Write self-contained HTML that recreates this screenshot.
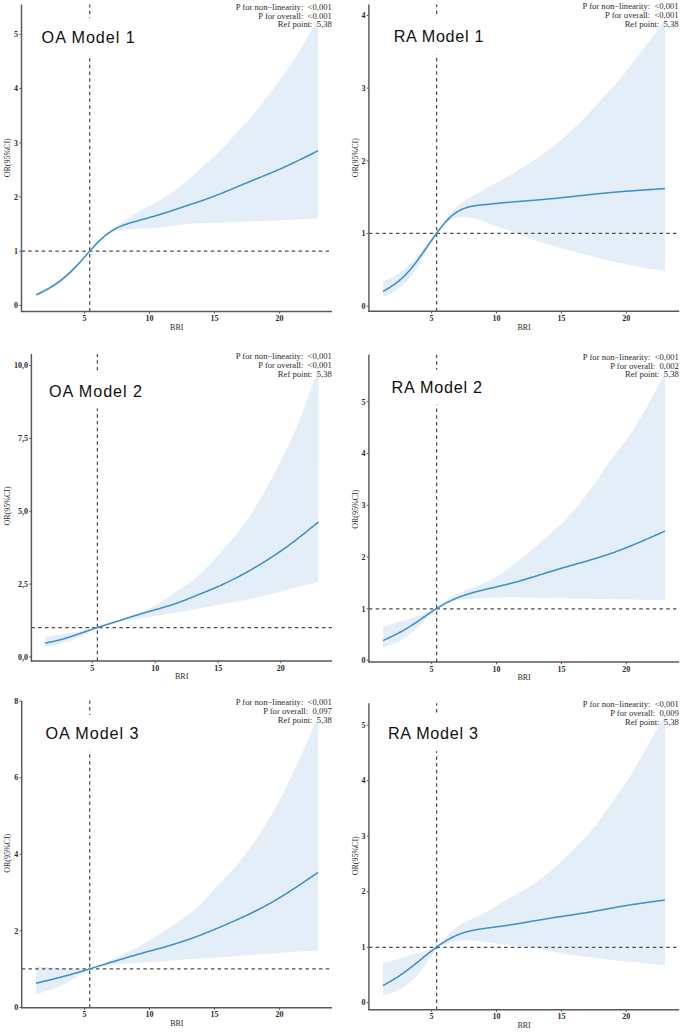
<!DOCTYPE html>
<html><head><meta charset="utf-8"><title>RCS plots</title>
<style>
html,body{margin:0;padding:0;background:#fff;}
body{width:685px;height:1035px;overflow:hidden;}
svg{display:block;}
.tk{font-family:"Liberation Serif",serif;font-weight:bold;font-size:8px;fill:#2b2b2b;}
.at{font-family:"Liberation Serif",serif;font-size:8px;fill:#2b2b2b;}
.an{font-family:"Liberation Serif",serif;font-size:8.6px;fill:#2b2b2b;}
.ti{font-family:"Liberation Sans",sans-serif;font-size:16.2px;fill:#111;}
</style></head>
<body>
<svg width="685" height="1035" viewBox="0 0 685 1035">
<rect x="0" y="0" width="685" height="1035" fill="#fff"/>
<path d="M36.1,292.7 L37.1,292.2 L38.1,291.8 L39.1,291.3 L40.1,290.9 L41.1,290.4 L42.1,290.0 L43.1,289.5 L44.1,289.0 L45.1,288.5 L46.1,288.0 L47.1,287.5 L48.1,286.9 L49.1,286.4 L50.1,285.8 L51.1,285.2 L52.1,284.6 L53.1,284.0 L54.1,283.4 L55.1,282.7 L56.1,282.0 L57.1,281.3 L58.1,280.6 L59.1,279.8 L60.1,279.1 L61.1,278.3 L62.1,277.5 L63.1,276.7 L64.1,275.8 L65.1,275.0 L66.1,274.1 L67.1,273.3 L68.1,272.4 L69.1,271.5 L70.1,270.6 L71.1,269.7 L72.1,268.8 L73.1,267.8 L74.1,266.9 L75.1,265.9 L76.1,264.9 L77.1,263.9 L78.1,262.9 L79.1,261.9 L80.1,260.9 L81.1,259.8 L82.1,258.8 L83.1,257.7 L84.1,256.6 L85.1,255.6 L86.1,254.5 L87.1,253.4 L88.1,252.3 L89.1,251.2 L90.1,250.0 L91.1,248.9 L92.1,247.7 L93.1,246.6 L94.1,245.5 L95.1,244.3 L96.1,243.2 L97.1,242.2 L98.1,241.1 L99.1,240.1 L100.1,239.1 L101.1,238.1 L102.1,237.2 L103.1,236.3 L104.1,235.4 L105.1,234.5 L106.1,233.7 L107.1,232.9 L108.1,232.1 L109.1,231.4 L110.1,230.7 L111.1,229.9 L112.1,229.2 L113.1,228.6 L114.1,227.9 L115.1,227.2 L116.1,226.5 L117.1,225.9 L118.1,225.2 L119.1,224.6 L120.1,223.9 L121.1,223.3 L122.1,222.6 L123.1,221.9 L124.1,221.3 L125.1,220.6 L126.1,219.9 L127.1,219.2 L128.1,218.5 L129.1,217.8 L130.1,217.2 L131.1,216.5 L132.1,215.8 L133.1,215.1 L134.1,214.4 L135.1,213.8 L136.1,213.1 L137.1,212.5 L138.1,211.8 L139.1,211.2 L140.1,210.6 L141.1,210.0 L142.1,209.4 L143.1,208.9 L144.1,208.3 L145.1,207.8 L146.1,207.3 L147.1,206.8 L148.1,206.3 L149.1,205.8 L150.1,205.3 L151.1,204.9 L152.1,204.4 L153.1,203.9 L154.1,203.4 L155.1,202.8 L156.1,202.3 L157.1,201.7 L158.1,201.2 L159.1,200.6 L160.1,200.0 L161.1,199.4 L162.1,198.8 L163.1,198.2 L164.1,197.6 L165.1,197.0 L166.1,196.3 L167.1,195.7 L168.1,195.0 L169.1,194.4 L170.1,193.7 L171.1,193.1 L172.1,192.4 L173.1,191.7 L174.1,191.0 L175.1,190.4 L176.1,189.6 L177.1,188.9 L178.1,188.2 L179.1,187.4 L180.1,186.7 L181.1,185.9 L182.1,185.1 L183.1,184.2 L184.1,183.4 L185.1,182.6 L186.1,181.7 L187.1,180.8 L188.1,179.9 L189.1,179.0 L190.1,178.1 L191.1,177.2 L192.1,176.3 L193.1,175.4 L194.1,174.5 L195.1,173.6 L196.1,172.7 L197.1,171.7 L198.1,170.8 L199.1,169.9 L200.1,169.0 L201.1,168.0 L202.1,167.1 L203.1,166.2 L204.1,165.3 L205.1,164.4 L206.1,163.5 L207.1,162.6 L208.1,161.7 L209.1,160.8 L210.1,159.9 L211.1,159.0 L212.1,158.1 L213.1,157.2 L214.1,156.3 L215.1,155.4 L216.1,154.5 L217.1,153.6 L218.1,152.7 L219.1,151.7 L220.1,150.8 L221.1,149.7 L222.1,148.7 L223.1,147.7 L224.1,146.6 L225.1,145.5 L226.1,144.4 L227.1,143.3 L228.1,142.2 L229.1,141.1 L230.1,140.0 L231.1,138.9 L232.1,137.8 L233.1,136.6 L234.1,135.5 L235.1,134.5 L236.1,133.4 L237.1,132.3 L238.1,131.2 L239.1,130.2 L240.1,129.1 L241.1,128.1 L242.1,127.1 L243.1,126.0 L244.1,125.0 L245.1,123.9 L246.1,122.9 L247.1,121.8 L248.1,120.7 L249.1,119.6 L250.1,118.5 L251.1,117.3 L252.1,116.1 L253.1,114.9 L254.1,113.7 L255.1,112.4 L256.1,111.1 L257.1,109.8 L258.1,108.4 L259.1,107.1 L260.1,105.8 L261.1,104.4 L262.1,103.1 L263.1,101.8 L264.1,100.5 L265.1,99.2 L266.1,97.9 L267.1,96.7 L268.1,95.4 L269.1,94.1 L270.1,92.8 L271.1,91.6 L272.1,90.3 L273.1,89.0 L274.1,87.7 L275.1,86.3 L276.1,85.0 L277.1,83.7 L278.1,82.3 L279.1,81.0 L280.1,79.6 L281.1,78.2 L282.1,76.8 L283.1,75.4 L284.1,74.0 L285.1,72.6 L286.1,71.2 L287.1,69.7 L288.1,68.3 L289.1,66.9 L290.1,65.4 L291.1,63.9 L292.1,62.4 L293.1,60.9 L294.1,59.4 L295.1,57.8 L296.1,56.2 L297.1,54.6 L298.1,53.0 L299.1,51.4 L300.1,49.8 L301.1,48.1 L302.1,46.5 L303.1,44.8 L304.1,43.1 L305.1,41.4 L306.1,39.7 L307.1,38.0 L308.1,36.3 L309.1,34.6 L310.1,32.9 L311.1,31.2 L312.1,29.4 L313.1,27.7 L314.1,26.0 L315.1,24.2 L316.1,22.5 L317.1,20.7 L318.1,19.0 L318.0,218.4 L317.1,218.4 L316.1,218.5 L315.1,218.6 L314.1,218.6 L313.1,218.7 L312.1,218.7 L311.1,218.8 L310.1,218.8 L309.1,218.9 L308.1,218.9 L307.1,219.0 L306.1,219.0 L305.1,219.1 L304.1,219.1 L303.1,219.2 L302.1,219.2 L301.1,219.3 L300.1,219.3 L299.1,219.4 L298.1,219.4 L297.1,219.5 L296.1,219.5 L295.1,219.6 L294.1,219.6 L293.1,219.7 L292.1,219.7 L291.1,219.8 L290.1,219.8 L289.1,219.9 L288.1,219.9 L287.1,220.0 L286.1,220.0 L285.1,220.1 L284.1,220.1 L283.1,220.2 L282.1,220.2 L281.1,220.3 L280.1,220.3 L279.1,220.4 L278.1,220.4 L277.1,220.5 L276.1,220.5 L275.1,220.6 L274.1,220.6 L273.1,220.6 L272.1,220.7 L271.1,220.7 L270.1,220.8 L269.1,220.8 L268.1,220.9 L267.1,220.9 L266.1,221.0 L265.1,221.0 L264.1,221.0 L263.1,221.1 L262.1,221.1 L261.1,221.2 L260.1,221.2 L259.1,221.2 L258.1,221.3 L257.1,221.3 L256.1,221.4 L255.1,221.4 L254.1,221.4 L253.1,221.5 L252.1,221.5 L251.1,221.5 L250.1,221.6 L249.1,221.6 L248.1,221.7 L247.1,221.7 L246.1,221.7 L245.1,221.8 L244.1,221.8 L243.1,221.8 L242.1,221.9 L241.1,221.9 L240.1,221.9 L239.1,222.0 L238.1,222.0 L237.1,222.0 L236.1,222.1 L235.1,222.1 L234.1,222.1 L233.1,222.2 L232.1,222.2 L231.1,222.2 L230.1,222.2 L229.1,222.3 L228.1,222.3 L227.1,222.3 L226.1,222.4 L225.1,222.4 L224.1,222.4 L223.1,222.4 L222.1,222.5 L221.1,222.5 L220.1,222.5 L219.1,222.6 L218.1,222.6 L217.1,222.6 L216.1,222.6 L215.1,222.7 L214.1,222.7 L213.1,222.7 L212.1,222.8 L211.1,222.8 L210.1,222.8 L209.1,222.9 L208.1,222.9 L207.1,223.0 L206.1,223.0 L205.1,223.0 L204.1,223.1 L203.1,223.1 L202.1,223.2 L201.1,223.2 L200.1,223.3 L199.1,223.3 L198.1,223.4 L197.1,223.5 L196.1,223.5 L195.1,223.6 L194.1,223.6 L193.1,223.7 L192.1,223.8 L191.1,223.9 L190.1,224.0 L189.1,224.0 L188.1,224.1 L187.1,224.2 L186.1,224.3 L185.1,224.4 L184.1,224.5 L183.1,224.6 L182.1,224.7 L181.1,224.9 L180.1,225.0 L179.1,225.1 L178.1,225.2 L177.1,225.3 L176.1,225.5 L175.1,225.6 L174.1,225.7 L173.1,225.8 L172.1,226.0 L171.1,226.1 L170.1,226.2 L169.1,226.3 L168.1,226.5 L167.1,226.6 L166.1,226.7 L165.1,226.8 L164.1,226.9 L163.1,227.1 L162.1,227.2 L161.1,227.3 L160.1,227.4 L159.1,227.5 L158.1,227.6 L157.1,227.7 L156.1,227.8 L155.1,227.8 L154.1,227.9 L153.1,228.0 L152.1,228.1 L151.1,228.1 L150.1,228.2 L149.1,228.3 L148.1,228.3 L147.1,228.4 L146.1,228.4 L145.1,228.5 L144.1,228.5 L143.1,228.6 L142.1,228.6 L141.1,228.6 L140.1,228.7 L139.1,228.7 L138.1,228.8 L137.1,228.8 L136.1,228.8 L135.1,228.9 L134.1,228.9 L133.1,228.9 L132.1,229.0 L131.1,229.0 L130.1,229.1 L129.1,229.1 L128.1,229.2 L127.1,229.2 L126.1,229.3 L125.1,229.4 L124.1,229.5 L123.1,229.6 L122.1,229.7 L121.1,229.9 L120.1,230.0 L119.1,230.2 L118.1,230.5 L117.1,230.7 L116.1,231.0 L115.1,231.3 L114.1,231.7 L113.1,232.1 L112.1,232.5 L111.1,233.0 L110.1,233.5 L109.1,234.1 L108.1,234.6 L107.1,235.3 L106.1,235.9 L105.1,236.6 L104.1,237.4 L103.1,238.1 L102.1,238.9 L101.1,239.8 L100.1,240.6 L99.1,241.6 L98.1,242.5 L97.1,243.5 L96.1,244.5 L95.1,245.5 L94.1,246.6 L93.1,247.7 L92.1,248.9 L91.1,250.1 L90.1,251.3 L89.1,252.5 L88.1,253.7 L87.1,255.0 L86.1,256.3 L85.1,257.6 L84.1,258.9 L83.1,260.1 L82.1,261.4 L81.1,262.6 L80.1,263.8 L79.1,264.9 L78.1,266.1 L77.1,267.2 L76.1,268.3 L75.1,269.4 L74.1,270.4 L73.1,271.4 L72.1,272.4 L71.1,273.4 L70.1,274.4 L69.1,275.3 L68.1,276.2 L67.1,277.1 L66.1,278.0 L65.1,278.8 L64.1,279.7 L63.1,280.5 L62.1,281.3 L61.1,282.1 L60.1,282.9 L59.1,283.7 L58.1,284.4 L57.1,285.1 L56.1,285.8 L55.1,286.5 L54.1,287.2 L53.1,287.8 L52.1,288.4 L51.1,289.0 L50.1,289.6 L49.1,290.2 L48.1,290.8 L47.1,291.3 L46.1,291.8 L45.1,292.3 L44.1,292.9 L43.1,293.4 L42.1,293.8 L41.1,294.3 L40.1,294.8 L39.1,295.3 L38.1,295.7 L37.1,296.2 L36.1,296.7 Z" fill="#e4eef8" stroke="none"/>
<line x1="21.50" y1="251.20" x2="332.00" y2="251.20" stroke="#4d4d4d" stroke-width="1.25" stroke-dasharray="3.5 3.257"/>
<line x1="89.70" y1="311.50" x2="89.70" y2="4.40" stroke="#4d4d4d" stroke-width="1.25" stroke-dasharray="3.5 3.257"/>
<path d="M36.1,294.9 L37.1,294.4 L38.1,293.9 L39.1,293.5 L40.1,293.0 L41.1,292.5 L42.1,292.0 L43.1,291.4 L44.1,290.9 L45.1,290.4 L46.1,289.9 L47.1,289.3 L48.1,288.8 L49.1,288.2 L50.1,287.6 L51.1,287.0 L52.1,286.4 L53.1,285.8 L54.1,285.1 L55.1,284.5 L56.1,283.8 L57.1,283.1 L58.1,282.4 L59.1,281.6 L60.1,280.9 L61.1,280.1 L62.1,279.3 L63.1,278.5 L64.1,277.7 L65.1,276.8 L66.1,276.0 L67.1,275.1 L68.1,274.2 L69.1,273.3 L70.1,272.3 L71.1,271.4 L72.1,270.4 L73.1,269.4 L74.1,268.4 L75.1,267.4 L76.1,266.4 L77.1,265.3 L78.1,264.2 L79.1,263.1 L80.1,262.1 L81.1,260.9 L82.1,259.8 L83.1,258.7 L84.1,257.6 L85.1,256.4 L86.1,255.3 L87.1,254.1 L88.1,253.0 L89.1,251.8 L90.1,250.7 L91.1,249.6 L92.1,248.4 L93.1,247.3 L94.1,246.2 L95.1,245.2 L96.1,244.1 L97.1,243.1 L98.1,242.1 L99.1,241.1 L100.1,240.1 L101.1,239.2 L102.1,238.3 L103.1,237.4 L104.1,236.5 L105.1,235.7 L106.1,234.9 L107.1,234.1 L108.1,233.4 L109.1,232.7 L110.1,232.0 L111.1,231.3 L112.1,230.7 L113.1,230.1 L114.1,229.5 L115.1,228.9 L116.1,228.4 L117.1,227.9 L118.1,227.4 L119.1,226.9 L120.1,226.5 L121.1,226.1 L122.1,225.7 L123.1,225.3 L124.1,224.9 L125.1,224.6 L126.1,224.2 L127.1,223.9 L128.1,223.6 L129.1,223.2 L130.1,222.9 L131.1,222.6 L132.1,222.4 L133.1,222.1 L134.1,221.8 L135.1,221.5 L136.1,221.2 L137.1,220.9 L138.1,220.7 L139.1,220.4 L140.1,220.1 L141.1,219.8 L142.1,219.6 L143.1,219.3 L144.1,219.0 L145.1,218.7 L146.1,218.4 L147.1,218.2 L148.1,217.9 L149.1,217.6 L150.1,217.3 L151.1,217.0 L152.1,216.7 L153.1,216.5 L154.1,216.2 L155.1,215.9 L156.1,215.6 L157.1,215.3 L158.1,215.0 L159.1,214.7 L160.1,214.4 L161.1,214.1 L162.1,213.8 L163.1,213.5 L164.1,213.2 L165.1,212.9 L166.1,212.5 L167.1,212.2 L168.1,211.9 L169.1,211.6 L170.1,211.3 L171.1,210.9 L172.1,210.6 L173.1,210.3 L174.1,209.9 L175.1,209.6 L176.1,209.3 L177.1,208.9 L178.1,208.6 L179.1,208.3 L180.1,207.9 L181.1,207.6 L182.1,207.2 L183.1,206.9 L184.1,206.6 L185.1,206.2 L186.1,205.9 L187.1,205.6 L188.1,205.2 L189.1,204.9 L190.1,204.6 L191.1,204.2 L192.1,203.9 L193.1,203.6 L194.1,203.2 L195.1,202.9 L196.1,202.6 L197.1,202.2 L198.1,201.9 L199.1,201.6 L200.1,201.2 L201.1,200.9 L202.1,200.5 L203.1,200.2 L204.1,199.8 L205.1,199.5 L206.1,199.1 L207.1,198.8 L208.1,198.4 L209.1,198.0 L210.1,197.7 L211.1,197.3 L212.1,196.9 L213.1,196.5 L214.1,196.2 L215.1,195.8 L216.1,195.4 L217.1,195.0 L218.1,194.6 L219.1,194.2 L220.1,193.9 L221.1,193.5 L222.1,193.1 L223.1,192.7 L224.1,192.3 L225.1,191.8 L226.1,191.4 L227.1,191.0 L228.1,190.6 L229.1,190.2 L230.1,189.8 L231.1,189.4 L232.1,188.9 L233.1,188.5 L234.1,188.1 L235.1,187.7 L236.1,187.3 L237.1,186.9 L238.1,186.4 L239.1,186.0 L240.1,185.6 L241.1,185.2 L242.1,184.8 L243.1,184.3 L244.1,183.9 L245.1,183.5 L246.1,183.1 L247.1,182.7 L248.1,182.3 L249.1,181.9 L250.1,181.5 L251.1,181.0 L252.1,180.6 L253.1,180.2 L254.1,179.8 L255.1,179.4 L256.1,179.0 L257.1,178.6 L258.1,178.2 L259.1,177.8 L260.1,177.4 L261.1,177.0 L262.1,176.6 L263.1,176.1 L264.1,175.7 L265.1,175.3 L266.1,174.9 L267.1,174.5 L268.1,174.1 L269.1,173.7 L270.1,173.3 L271.1,172.9 L272.1,172.4 L273.1,172.0 L274.1,171.6 L275.1,171.2 L276.1,170.7 L277.1,170.3 L278.1,169.9 L279.1,169.4 L280.1,169.0 L281.1,168.5 L282.1,168.1 L283.1,167.7 L284.1,167.2 L285.1,166.7 L286.1,166.3 L287.1,165.8 L288.1,165.4 L289.1,164.9 L290.1,164.4 L291.1,164.0 L292.1,163.5 L293.1,163.0 L294.1,162.5 L295.1,162.1 L296.1,161.6 L297.1,161.1 L298.1,160.6 L299.1,160.1 L300.1,159.6 L301.1,159.2 L302.1,158.7 L303.1,158.2 L304.1,157.7 L305.1,157.2 L306.1,156.7 L307.1,156.2 L308.1,155.7 L309.1,155.2 L310.1,154.7 L311.1,154.2 L312.1,153.7 L313.1,153.2 L314.1,152.7 L315.1,152.1 L316.1,151.6 L317.1,151.1 L318.1,150.6" fill="none" stroke="#3d8fcb" stroke-width="1.55" stroke-linejoin="round" stroke-linecap="butt"/>
<rect x="85.70" y="18.40" width="8" height="39.40" fill="#fff"/>
<line x1="21.50" y1="4.40" x2="21.50" y2="312.05" stroke="#595959" stroke-width="1.45"/>
<line x1="20.95" y1="311.50" x2="332.00" y2="311.50" stroke="#595959" stroke-width="1.45"/>
<line x1="19.30" y1="305.40" x2="21.50" y2="305.40" stroke="#595959" stroke-width="1.0"/>
<text x="18.00" y="308.10" class="tk" text-anchor="end">0</text>
<line x1="19.30" y1="251.20" x2="21.50" y2="251.20" stroke="#595959" stroke-width="1.0"/>
<text x="18.00" y="253.90" class="tk" text-anchor="end">1</text>
<line x1="19.30" y1="197.00" x2="21.50" y2="197.00" stroke="#595959" stroke-width="1.0"/>
<text x="18.00" y="199.70" class="tk" text-anchor="end">2</text>
<line x1="19.30" y1="142.80" x2="21.50" y2="142.80" stroke="#595959" stroke-width="1.0"/>
<text x="18.00" y="145.50" class="tk" text-anchor="end">3</text>
<line x1="19.30" y1="88.60" x2="21.50" y2="88.60" stroke="#595959" stroke-width="1.0"/>
<text x="18.00" y="91.30" class="tk" text-anchor="end">4</text>
<line x1="19.30" y1="34.40" x2="21.50" y2="34.40" stroke="#595959" stroke-width="1.0"/>
<text x="18.00" y="37.10" class="tk" text-anchor="end">5</text>
<line x1="84.60" y1="311.50" x2="84.60" y2="313.70" stroke="#595959" stroke-width="1.0"/>
<text x="84.60" y="321.00" class="tk" text-anchor="middle">5</text>
<line x1="149.50" y1="311.50" x2="149.50" y2="313.70" stroke="#595959" stroke-width="1.0"/>
<text x="149.50" y="321.00" class="tk" text-anchor="middle">10</text>
<line x1="214.40" y1="311.50" x2="214.40" y2="313.70" stroke="#595959" stroke-width="1.0"/>
<text x="214.40" y="321.00" class="tk" text-anchor="middle">15</text>
<line x1="279.40" y1="311.50" x2="279.40" y2="313.70" stroke="#595959" stroke-width="1.0"/>
<text x="279.40" y="321.00" class="tk" text-anchor="middle">20</text>
<text x="176.75" y="329.90" class="at" text-anchor="middle">BRI</text>
<text x="0" y="0" class="at" text-anchor="middle" transform="translate(10.20,157.80) rotate(-90)">OR(95%CI)</text>
<text x="331.80" y="9.60" class="an" text-anchor="end">P for non−linearity:  &lt;0,001</text>
<text x="331.80" y="18.70" class="an" text-anchor="end">P for overall:  &lt;0.001</text>
<text x="331.80" y="27.20" class="an" text-anchor="end">Ref point:  5,38</text>
<text x="41.60" y="42.70" class="ti" textLength="93.20" lengthAdjust="spacing">OA Model 1</text>
<path d="M383.0,281.7 L384.0,281.2 L385.0,280.7 L386.0,280.3 L387.0,279.8 L388.0,279.3 L389.0,278.8 L390.0,278.3 L391.0,277.8 L392.0,277.3 L393.0,276.7 L394.0,276.2 L395.0,275.6 L396.0,275.1 L397.0,274.5 L398.0,273.9 L399.0,273.2 L400.0,272.6 L401.0,271.9 L402.0,271.2 L403.0,270.4 L404.0,269.6 L405.0,268.8 L406.0,268.0 L407.0,267.1 L408.0,266.2 L409.0,265.2 L410.0,264.2 L411.0,263.2 L412.0,262.2 L413.0,261.1 L414.0,259.9 L415.0,258.8 L416.0,257.6 L417.0,256.4 L418.0,255.2 L419.0,254.0 L420.0,252.7 L421.0,251.5 L422.0,250.2 L423.0,248.9 L424.0,247.7 L425.0,246.4 L426.0,245.2 L427.0,243.9 L428.0,242.7 L429.0,241.5 L430.0,240.2 L431.0,239.0 L432.0,237.8 L433.0,236.5 L434.0,235.3 L435.0,234.0 L436.0,232.8 L437.0,231.5 L438.0,230.2 L439.0,228.8 L440.0,227.5 L441.0,226.2 L442.0,224.8 L443.0,223.5 L444.0,222.2 L445.0,220.9 L446.0,219.6 L447.0,218.3 L448.0,217.0 L449.0,215.8 L450.0,214.6 L451.0,213.5 L452.0,212.3 L453.0,211.2 L454.0,210.1 L455.0,209.1 L456.0,208.1 L457.0,207.1 L458.0,206.2 L459.0,205.3 L460.0,204.4 L461.0,203.6 L462.0,202.8 L463.0,202.0 L464.0,201.3 L465.0,200.6 L466.0,199.9 L467.0,199.2 L468.0,198.6 L469.0,198.0 L470.0,197.4 L471.0,196.8 L472.0,196.2 L473.0,195.6 L474.0,195.1 L475.0,194.5 L476.0,194.0 L477.0,193.4 L478.0,192.9 L479.0,192.3 L480.0,191.8 L481.0,191.2 L482.0,190.7 L483.0,190.1 L484.0,189.6 L485.0,189.0 L486.0,188.5 L487.0,188.0 L488.0,187.5 L489.0,186.9 L490.0,186.4 L491.0,185.9 L492.0,185.3 L493.0,184.8 L494.0,184.2 L495.0,183.7 L496.0,183.1 L497.0,182.6 L498.0,182.0 L499.0,181.5 L500.0,180.9 L501.0,180.3 L502.0,179.7 L503.0,179.2 L504.0,178.6 L505.0,178.0 L506.0,177.4 L507.0,176.8 L508.0,176.2 L509.0,175.7 L510.0,175.1 L511.0,174.5 L512.0,173.9 L513.0,173.3 L514.0,172.7 L515.0,172.1 L516.0,171.5 L517.0,170.9 L518.0,170.3 L519.0,169.7 L520.0,169.0 L521.0,168.4 L522.0,167.8 L523.0,167.2 L524.0,166.6 L525.0,165.9 L526.0,165.3 L527.0,164.6 L528.0,164.0 L529.0,163.4 L530.0,162.7 L531.0,162.1 L532.0,161.4 L533.0,160.8 L534.0,160.1 L535.0,159.4 L536.0,158.8 L537.0,158.1 L538.0,157.4 L539.0,156.7 L540.0,156.0 L541.0,155.3 L542.0,154.6 L543.0,153.9 L544.0,153.2 L545.0,152.5 L546.0,151.7 L547.0,151.0 L548.0,150.2 L549.0,149.4 L550.0,148.7 L551.0,147.9 L552.0,147.1 L553.0,146.3 L554.0,145.5 L555.0,144.7 L556.0,143.9 L557.0,143.1 L558.0,142.3 L559.0,141.5 L560.0,140.6 L561.0,139.8 L562.0,138.9 L563.0,138.0 L564.0,137.2 L565.0,136.3 L566.0,135.4 L567.0,134.5 L568.0,133.6 L569.0,132.7 L570.0,131.8 L571.0,130.9 L572.0,129.9 L573.0,129.0 L574.0,128.1 L575.0,127.1 L576.0,126.2 L577.0,125.2 L578.0,124.2 L579.0,123.2 L580.0,122.2 L581.0,121.2 L582.0,120.2 L583.0,119.2 L584.0,118.2 L585.0,117.2 L586.0,116.1 L587.0,115.1 L588.0,114.0 L589.0,112.9 L590.0,111.9 L591.0,110.8 L592.0,109.7 L593.0,108.6 L594.0,107.5 L595.0,106.4 L596.0,105.3 L597.0,104.2 L598.0,103.1 L599.0,102.0 L600.0,101.0 L601.0,99.9 L602.0,98.8 L603.0,97.7 L604.0,96.6 L605.0,95.6 L606.0,94.5 L607.0,93.4 L608.0,92.3 L609.0,91.3 L610.0,90.2 L611.0,89.1 L612.0,88.0 L613.0,86.9 L614.0,85.8 L615.0,84.6 L616.0,83.5 L617.0,82.3 L618.0,81.2 L619.0,80.0 L620.0,78.8 L621.0,77.6 L622.0,76.4 L623.0,75.2 L624.0,73.9 L625.0,72.7 L626.0,71.4 L627.0,70.1 L628.0,68.8 L629.0,67.6 L630.0,66.3 L631.0,65.0 L632.0,63.7 L633.0,62.4 L634.0,61.1 L635.0,59.8 L636.0,58.5 L637.0,57.2 L638.0,55.9 L639.0,54.6 L640.0,53.3 L641.0,52.0 L642.0,50.7 L643.0,49.4 L644.0,48.2 L645.0,46.9 L646.0,45.6 L647.0,44.3 L648.0,43.0 L649.0,41.7 L650.0,40.4 L651.0,39.1 L652.0,37.8 L653.0,36.4 L654.0,35.1 L655.0,33.7 L656.0,32.4 L657.0,31.0 L658.0,29.6 L659.0,28.2 L660.0,26.7 L661.0,25.3 L662.0,23.9 L663.0,22.4 L664.0,21.0 L665.0,19.5 L665.0,270.9 L664.0,270.8 L663.0,270.6 L662.0,270.5 L661.0,270.4 L660.0,270.2 L659.0,270.1 L658.0,269.9 L657.0,269.8 L656.0,269.6 L655.0,269.5 L654.0,269.4 L653.0,269.2 L652.0,269.0 L651.0,268.9 L650.0,268.7 L649.0,268.6 L648.0,268.4 L647.0,268.3 L646.0,268.1 L645.0,267.9 L644.0,267.7 L643.0,267.6 L642.0,267.4 L641.0,267.2 L640.0,267.0 L639.0,266.8 L638.0,266.7 L637.0,266.5 L636.0,266.3 L635.0,266.1 L634.0,265.9 L633.0,265.7 L632.0,265.5 L631.0,265.3 L630.0,265.1 L629.0,264.9 L628.0,264.7 L627.0,264.5 L626.0,264.3 L625.0,264.1 L624.0,263.9 L623.0,263.7 L622.0,263.4 L621.0,263.2 L620.0,263.0 L619.0,262.8 L618.0,262.6 L617.0,262.3 L616.0,262.1 L615.0,261.9 L614.0,261.6 L613.0,261.4 L612.0,261.2 L611.0,260.9 L610.0,260.7 L609.0,260.4 L608.0,260.2 L607.0,259.9 L606.0,259.7 L605.0,259.4 L604.0,259.2 L603.0,258.9 L602.0,258.7 L601.0,258.4 L600.0,258.2 L599.0,257.9 L598.0,257.7 L597.0,257.4 L596.0,257.2 L595.0,256.9 L594.0,256.7 L593.0,256.4 L592.0,256.2 L591.0,255.9 L590.0,255.7 L589.0,255.4 L588.0,255.2 L587.0,254.9 L586.0,254.7 L585.0,254.4 L584.0,254.1 L583.0,253.9 L582.0,253.6 L581.0,253.4 L580.0,253.1 L579.0,252.9 L578.0,252.6 L577.0,252.3 L576.0,252.1 L575.0,251.8 L574.0,251.6 L573.0,251.3 L572.0,251.0 L571.0,250.8 L570.0,250.5 L569.0,250.3 L568.0,250.0 L567.0,249.7 L566.0,249.5 L565.0,249.2 L564.0,249.0 L563.0,248.7 L562.0,248.4 L561.0,248.1 L560.0,247.9 L559.0,247.6 L558.0,247.3 L557.0,247.0 L556.0,246.7 L555.0,246.5 L554.0,246.2 L553.0,245.9 L552.0,245.6 L551.0,245.3 L550.0,245.0 L549.0,244.7 L548.0,244.4 L547.0,244.1 L546.0,243.8 L545.0,243.5 L544.0,243.2 L543.0,242.9 L542.0,242.6 L541.0,242.3 L540.0,242.0 L539.0,241.7 L538.0,241.3 L537.0,241.0 L536.0,240.7 L535.0,240.3 L534.0,240.0 L533.0,239.7 L532.0,239.3 L531.0,238.9 L530.0,238.6 L529.0,238.2 L528.0,237.8 L527.0,237.5 L526.0,237.1 L525.0,236.7 L524.0,236.3 L523.0,235.9 L522.0,235.5 L521.0,235.1 L520.0,234.7 L519.0,234.3 L518.0,233.9 L517.0,233.5 L516.0,233.2 L515.0,232.8 L514.0,232.4 L513.0,232.0 L512.0,231.7 L511.0,231.3 L510.0,230.9 L509.0,230.6 L508.0,230.2 L507.0,229.9 L506.0,229.5 L505.0,229.2 L504.0,228.8 L503.0,228.5 L502.0,228.1 L501.0,227.8 L500.0,227.4 L499.0,227.1 L498.0,226.7 L497.0,226.3 L496.0,226.0 L495.0,225.6 L494.0,225.2 L493.0,224.9 L492.0,224.5 L491.0,224.1 L490.0,223.7 L489.0,223.4 L488.0,223.0 L487.0,222.6 L486.0,222.2 L485.0,221.8 L484.0,221.4 L483.0,221.1 L482.0,220.7 L481.0,220.4 L480.0,220.0 L479.0,219.7 L478.0,219.4 L477.0,219.1 L476.0,218.8 L475.0,218.5 L474.0,218.2 L473.0,218.0 L472.0,217.7 L471.0,217.5 L470.0,217.3 L469.0,217.2 L468.0,217.0 L467.0,216.9 L466.0,216.8 L465.0,216.8 L464.0,216.7 L463.0,216.7 L462.0,216.8 L461.0,216.8 L460.0,216.9 L459.0,217.1 L458.0,217.3 L457.0,217.5 L456.0,217.8 L455.0,218.1 L454.0,218.4 L453.0,218.9 L452.0,219.4 L451.0,219.9 L450.0,220.5 L449.0,221.2 L448.0,221.9 L447.0,222.7 L446.0,223.5 L445.0,224.4 L444.0,225.4 L443.0,226.4 L442.0,227.5 L441.0,228.7 L440.0,229.9 L439.0,231.2 L438.0,232.5 L437.0,233.9 L436.0,235.4 L435.0,236.9 L434.0,238.5 L433.0,240.1 L432.0,241.7 L431.0,243.4 L430.0,245.1 L429.0,246.9 L428.0,248.6 L427.0,250.4 L426.0,252.2 L425.0,254.0 L424.0,255.7 L423.0,257.5 L422.0,259.2 L421.0,261.0 L420.0,262.7 L419.0,264.3 L418.0,266.0 L417.0,267.6 L416.0,269.1 L415.0,270.7 L414.0,272.1 L413.0,273.5 L412.0,274.9 L411.0,276.2 L410.0,277.4 L409.0,278.6 L408.0,279.8 L407.0,280.9 L406.0,281.9 L405.0,283.0 L404.0,283.9 L403.0,284.9 L402.0,285.8 L401.0,286.6 L400.0,287.4 L399.0,288.2 L398.0,288.9 L397.0,289.6 L396.0,290.3 L395.0,291.0 L394.0,291.6 L393.0,292.2 L392.0,292.7 L391.0,293.3 L390.0,293.8 L389.0,294.3 L388.0,294.8 L387.0,295.3 L386.0,295.8 L385.0,296.2 L384.0,296.7 L383.0,297.1 Z" fill="#e4eef8" stroke="none"/>
<line x1="368.90" y1="233.30" x2="679.20" y2="233.30" stroke="#4d4d4d" stroke-width="1.25" stroke-dasharray="3.5 3.257"/>
<line x1="436.60" y1="311.30" x2="436.60" y2="4.40" stroke="#4d4d4d" stroke-width="1.25" stroke-dasharray="3.5 3.257"/>
<path d="M383.0,291.5 L384.0,290.9 L385.0,290.3 L386.0,289.7 L387.0,289.1 L388.0,288.5 L389.0,287.9 L390.0,287.3 L391.0,286.6 L392.0,285.9 L393.0,285.3 L394.0,284.6 L395.0,283.9 L396.0,283.1 L397.0,282.4 L398.0,281.6 L399.0,280.8 L400.0,279.9 L401.0,279.1 L402.0,278.2 L403.0,277.2 L404.0,276.3 L405.0,275.3 L406.0,274.3 L407.0,273.2 L408.0,272.1 L409.0,271.0 L410.0,269.9 L411.0,268.7 L412.0,267.5 L413.0,266.2 L414.0,265.0 L415.0,263.7 L416.0,262.4 L417.0,261.0 L418.0,259.7 L419.0,258.3 L420.0,256.9 L421.0,255.5 L422.0,254.1 L423.0,252.6 L424.0,251.2 L425.0,249.8 L426.0,248.3 L427.0,246.9 L428.0,245.4 L429.0,244.0 L430.0,242.5 L431.0,241.1 L432.0,239.7 L433.0,238.2 L434.0,236.8 L435.0,235.4 L436.0,234.0 L437.0,232.7 L438.0,231.3 L439.0,230.0 L440.0,228.7 L441.0,227.4 L442.0,226.2 L443.0,224.9 L444.0,223.8 L445.0,222.6 L446.0,221.5 L447.0,220.4 L448.0,219.4 L449.0,218.4 L450.0,217.4 L451.0,216.5 L452.0,215.7 L453.0,214.8 L454.0,214.1 L455.0,213.3 L456.0,212.6 L457.0,212.0 L458.0,211.4 L459.0,210.8 L460.0,210.2 L461.0,209.7 L462.0,209.3 L463.0,208.9 L464.0,208.5 L465.0,208.1 L466.0,207.7 L467.0,207.4 L468.0,207.1 L469.0,206.9 L470.0,206.6 L471.0,206.4 L472.0,206.2 L473.0,206.0 L474.0,205.9 L475.0,205.7 L476.0,205.6 L477.0,205.4 L478.0,205.3 L479.0,205.2 L480.0,205.1 L481.0,205.0 L482.0,204.9 L483.0,204.8 L484.0,204.7 L485.0,204.6 L486.0,204.5 L487.0,204.4 L488.0,204.3 L489.0,204.2 L490.0,204.1 L491.0,204.0 L492.0,203.9 L493.0,203.8 L494.0,203.7 L495.0,203.6 L496.0,203.5 L497.0,203.4 L498.0,203.3 L499.0,203.2 L500.0,203.1 L501.0,203.0 L502.0,202.9 L503.0,202.8 L504.0,202.7 L505.0,202.6 L506.0,202.5 L507.0,202.4 L508.0,202.4 L509.0,202.3 L510.0,202.2 L511.0,202.1 L512.0,202.0 L513.0,201.9 L514.0,201.8 L515.0,201.8 L516.0,201.7 L517.0,201.6 L518.0,201.5 L519.0,201.4 L520.0,201.4 L521.0,201.3 L522.0,201.2 L523.0,201.1 L524.0,201.0 L525.0,201.0 L526.0,200.9 L527.0,200.8 L528.0,200.7 L529.0,200.6 L530.0,200.6 L531.0,200.5 L532.0,200.4 L533.0,200.3 L534.0,200.3 L535.0,200.2 L536.0,200.1 L537.0,200.0 L538.0,199.9 L539.0,199.8 L540.0,199.8 L541.0,199.7 L542.0,199.6 L543.0,199.5 L544.0,199.4 L545.0,199.3 L546.0,199.2 L547.0,199.1 L548.0,199.0 L549.0,198.9 L550.0,198.9 L551.0,198.8 L552.0,198.7 L553.0,198.6 L554.0,198.5 L555.0,198.4 L556.0,198.3 L557.0,198.2 L558.0,198.1 L559.0,198.0 L560.0,197.9 L561.0,197.8 L562.0,197.6 L563.0,197.5 L564.0,197.4 L565.0,197.3 L566.0,197.2 L567.0,197.1 L568.0,197.0 L569.0,196.9 L570.0,196.8 L571.0,196.7 L572.0,196.6 L573.0,196.5 L574.0,196.4 L575.0,196.3 L576.0,196.1 L577.0,196.0 L578.0,195.9 L579.0,195.8 L580.0,195.7 L581.0,195.6 L582.0,195.5 L583.0,195.4 L584.0,195.3 L585.0,195.2 L586.0,195.1 L587.0,195.0 L588.0,194.8 L589.0,194.7 L590.0,194.6 L591.0,194.5 L592.0,194.4 L593.0,194.3 L594.0,194.2 L595.0,194.1 L596.0,194.0 L597.0,193.9 L598.0,193.8 L599.0,193.7 L600.0,193.6 L601.0,193.5 L602.0,193.4 L603.0,193.3 L604.0,193.2 L605.0,193.1 L606.0,193.0 L607.0,192.9 L608.0,192.8 L609.0,192.7 L610.0,192.6 L611.0,192.5 L612.0,192.4 L613.0,192.3 L614.0,192.3 L615.0,192.2 L616.0,192.1 L617.0,192.0 L618.0,191.9 L619.0,191.8 L620.0,191.7 L621.0,191.7 L622.0,191.6 L623.0,191.5 L624.0,191.4 L625.0,191.3 L626.0,191.3 L627.0,191.2 L628.0,191.1 L629.0,191.0 L630.0,191.0 L631.0,190.9 L632.0,190.8 L633.0,190.7 L634.0,190.7 L635.0,190.6 L636.0,190.5 L637.0,190.4 L638.0,190.4 L639.0,190.3 L640.0,190.2 L641.0,190.2 L642.0,190.1 L643.0,190.0 L644.0,190.0 L645.0,189.9 L646.0,189.8 L647.0,189.8 L648.0,189.7 L649.0,189.6 L650.0,189.6 L651.0,189.5 L652.0,189.4 L653.0,189.4 L654.0,189.3 L655.0,189.2 L656.0,189.2 L657.0,189.1 L658.0,189.0 L659.0,189.0 L660.0,188.9 L661.0,188.8 L662.0,188.8 L663.0,188.7 L664.0,188.7 L665.0,188.6" fill="none" stroke="#3d8fcb" stroke-width="1.55" stroke-linejoin="round" stroke-linecap="butt"/>
<rect x="432.60" y="16.80" width="8" height="37.60" fill="#fff"/>
<line x1="368.90" y1="4.40" x2="368.90" y2="311.85" stroke="#595959" stroke-width="1.45"/>
<line x1="368.35" y1="311.30" x2="679.20" y2="311.30" stroke="#595959" stroke-width="1.45"/>
<line x1="366.70" y1="306.10" x2="368.90" y2="306.10" stroke="#595959" stroke-width="1.0"/>
<text x="365.40" y="308.80" class="tk" text-anchor="end">0</text>
<line x1="366.70" y1="233.50" x2="368.90" y2="233.50" stroke="#595959" stroke-width="1.0"/>
<text x="365.40" y="236.20" class="tk" text-anchor="end">1</text>
<line x1="366.70" y1="160.80" x2="368.90" y2="160.80" stroke="#595959" stroke-width="1.0"/>
<text x="365.40" y="163.50" class="tk" text-anchor="end">2</text>
<line x1="366.70" y1="88.10" x2="368.90" y2="88.10" stroke="#595959" stroke-width="1.0"/>
<text x="365.40" y="90.80" class="tk" text-anchor="end">3</text>
<line x1="366.70" y1="15.50" x2="368.90" y2="15.50" stroke="#595959" stroke-width="1.0"/>
<text x="365.40" y="18.20" class="tk" text-anchor="end">4</text>
<line x1="431.60" y1="311.30" x2="431.60" y2="313.50" stroke="#595959" stroke-width="1.0"/>
<text x="431.60" y="320.80" class="tk" text-anchor="middle">5</text>
<line x1="496.50" y1="311.30" x2="496.50" y2="313.50" stroke="#595959" stroke-width="1.0"/>
<text x="496.50" y="320.80" class="tk" text-anchor="middle">10</text>
<line x1="561.40" y1="311.30" x2="561.40" y2="313.50" stroke="#595959" stroke-width="1.0"/>
<text x="561.40" y="320.80" class="tk" text-anchor="middle">15</text>
<line x1="626.30" y1="311.30" x2="626.30" y2="313.50" stroke="#595959" stroke-width="1.0"/>
<text x="626.30" y="320.80" class="tk" text-anchor="middle">20</text>
<text x="524.05" y="329.70" class="at" text-anchor="middle">BRI</text>
<text x="0" y="0" class="at" text-anchor="middle" transform="translate(357.50,157.70) rotate(-90)">OR(95%CI)</text>
<text x="678.60" y="9.40" class="an" text-anchor="end">P for non−linearity:  &lt;0,001</text>
<text x="678.60" y="18.10" class="an" text-anchor="end">P for overall:  &lt;0,001</text>
<text x="678.60" y="27.00" class="an" text-anchor="end">Ref point:  5,38</text>
<text x="393.70" y="41.80" class="ti" textLength="89.70" lengthAdjust="spacing">RA Model 1</text>
<path d="M45.1,636.8 L46.1,636.7 L47.1,636.5 L48.1,636.4 L49.1,636.2 L50.1,636.1 L51.1,635.9 L52.1,635.8 L53.1,635.6 L54.1,635.5 L55.1,635.3 L56.1,635.2 L57.1,635.0 L58.1,634.9 L59.1,634.7 L60.1,634.6 L61.1,634.4 L62.1,634.3 L63.1,634.1 L64.1,633.9 L65.1,633.8 L66.1,633.6 L67.1,633.5 L68.1,633.3 L69.1,633.1 L70.1,633.0 L71.1,632.8 L72.1,632.6 L73.1,632.5 L74.1,632.3 L75.1,632.1 L76.1,631.9 L77.1,631.7 L78.1,631.5 L79.1,631.4 L80.1,631.2 L81.1,631.0 L82.1,630.7 L83.1,630.5 L84.1,630.3 L85.1,630.1 L86.1,629.9 L87.1,629.7 L88.1,629.4 L89.1,629.2 L90.1,629.0 L91.1,628.7 L92.1,628.5 L93.1,628.3 L94.1,628.0 L95.1,627.8 L96.1,627.5 L97.1,627.2 L98.1,627.0 L99.1,626.7 L100.1,626.4 L101.1,626.2 L102.1,625.9 L103.1,625.6 L104.1,625.3 L105.1,625.0 L106.1,624.7 L107.1,624.4 L108.1,624.1 L109.1,623.8 L110.1,623.4 L111.1,623.1 L112.1,622.8 L113.1,622.4 L114.1,622.1 L115.1,621.7 L116.1,621.4 L117.1,621.0 L118.1,620.7 L119.1,620.3 L120.1,620.0 L121.1,619.6 L122.1,619.2 L123.1,618.9 L124.1,618.5 L125.1,618.2 L126.1,617.8 L127.1,617.4 L128.1,617.1 L129.1,616.7 L130.1,616.4 L131.1,616.0 L132.1,615.7 L133.1,615.3 L134.1,615.0 L135.1,614.6 L136.1,614.3 L137.1,613.9 L138.1,613.5 L139.1,613.1 L140.1,612.8 L141.1,612.4 L142.1,611.9 L143.1,611.5 L144.1,611.1 L145.1,610.6 L146.1,610.2 L147.1,609.7 L148.1,609.2 L149.1,608.7 L150.1,608.2 L151.1,607.6 L152.1,607.1 L153.1,606.6 L154.1,606.0 L155.1,605.4 L156.1,604.9 L157.1,604.3 L158.1,603.7 L159.1,603.1 L160.1,602.4 L161.1,601.8 L162.1,601.2 L163.1,600.5 L164.1,599.9 L165.1,599.2 L166.1,598.6 L167.1,597.9 L168.1,597.2 L169.1,596.5 L170.1,595.8 L171.1,595.1 L172.1,594.5 L173.1,593.8 L174.1,593.1 L175.1,592.4 L176.1,591.8 L177.1,591.1 L178.1,590.5 L179.1,589.8 L180.1,589.2 L181.1,588.5 L182.1,587.8 L183.1,587.2 L184.1,586.5 L185.1,585.8 L186.1,585.1 L187.1,584.4 L188.1,583.7 L189.1,583.0 L190.1,582.3 L191.1,581.5 L192.1,580.7 L193.1,579.9 L194.1,579.1 L195.1,578.3 L196.1,577.5 L197.1,576.6 L198.1,575.7 L199.1,574.8 L200.1,573.9 L201.1,573.0 L202.1,572.1 L203.1,571.1 L204.1,570.1 L205.1,569.1 L206.1,568.1 L207.1,567.1 L208.1,566.1 L209.1,565.0 L210.1,564.0 L211.1,562.9 L212.1,561.8 L213.1,560.7 L214.1,559.6 L215.1,558.4 L216.1,557.3 L217.1,556.2 L218.1,555.0 L219.1,553.9 L220.1,552.7 L221.1,551.6 L222.1,550.5 L223.1,549.3 L224.1,548.2 L225.1,547.1 L226.1,546.0 L227.1,544.8 L228.1,543.7 L229.1,542.6 L230.1,541.5 L231.1,540.3 L232.1,539.2 L233.1,538.0 L234.1,536.9 L235.1,535.7 L236.1,534.5 L237.1,533.3 L238.1,532.1 L239.1,530.9 L240.1,529.6 L241.1,528.3 L242.1,527.0 L243.1,525.7 L244.1,524.3 L245.1,522.9 L246.1,521.5 L247.1,520.0 L248.1,518.5 L249.1,517.0 L250.1,515.4 L251.1,513.9 L252.1,512.3 L253.1,510.7 L254.1,509.1 L255.1,507.4 L256.1,505.8 L257.1,504.1 L258.1,502.5 L259.1,500.8 L260.1,499.1 L261.1,497.3 L262.1,495.6 L263.1,493.9 L264.1,492.1 L265.1,490.3 L266.1,488.6 L267.1,486.8 L268.1,484.9 L269.1,483.1 L270.1,481.3 L271.1,479.4 L272.1,477.6 L273.1,475.7 L274.1,473.8 L275.1,471.9 L276.1,470.0 L277.1,468.1 L278.1,466.1 L279.1,464.2 L280.1,462.2 L281.1,460.2 L282.1,458.2 L283.1,456.2 L284.1,454.2 L285.1,452.2 L286.1,450.1 L287.1,448.0 L288.1,446.0 L289.1,443.8 L290.1,441.7 L291.1,439.5 L292.1,437.3 L293.1,435.1 L294.1,432.8 L295.1,430.5 L296.1,428.2 L297.1,425.8 L298.1,423.4 L299.1,420.9 L300.1,418.4 L301.1,415.9 L302.1,413.3 L303.1,410.6 L304.1,408.0 L305.1,405.2 L306.1,402.5 L307.1,399.7 L308.1,397.0 L309.1,394.2 L310.1,391.4 L311.1,388.6 L312.1,385.9 L313.1,383.2 L314.1,380.5 L315.1,377.8 L316.1,375.1 L317.1,372.5 L318.1,369.9 L318.6,368.6 L318.4,582.2 L318.1,582.3 L317.1,582.5 L316.1,582.7 L315.1,583.0 L314.1,583.2 L313.1,583.4 L312.1,583.7 L311.1,583.9 L310.1,584.1 L309.1,584.4 L308.1,584.6 L307.1,584.8 L306.1,585.1 L305.1,585.3 L304.1,585.6 L303.1,585.8 L302.1,586.0 L301.1,586.3 L300.1,586.5 L299.1,586.8 L298.1,587.0 L297.1,587.3 L296.1,587.5 L295.1,587.8 L294.1,588.1 L293.1,588.3 L292.1,588.6 L291.1,588.8 L290.1,589.1 L289.1,589.4 L288.1,589.6 L287.1,589.9 L286.1,590.1 L285.1,590.4 L284.1,590.7 L283.1,590.9 L282.1,591.2 L281.1,591.4 L280.1,591.7 L279.1,592.0 L278.1,592.2 L277.1,592.5 L276.1,592.7 L275.1,593.0 L274.1,593.2 L273.1,593.5 L272.1,593.7 L271.1,594.0 L270.1,594.2 L269.1,594.5 L268.1,594.7 L267.1,595.0 L266.1,595.2 L265.1,595.5 L264.1,595.7 L263.1,596.0 L262.1,596.2 L261.1,596.4 L260.1,596.7 L259.1,596.9 L258.1,597.1 L257.1,597.4 L256.1,597.6 L255.1,597.8 L254.1,598.1 L253.1,598.3 L252.1,598.5 L251.1,598.7 L250.1,598.9 L249.1,599.2 L248.1,599.4 L247.1,599.6 L246.1,599.8 L245.1,600.0 L244.1,600.2 L243.1,600.4 L242.1,600.6 L241.1,600.8 L240.1,601.0 L239.1,601.2 L238.1,601.3 L237.1,601.5 L236.1,601.7 L235.1,601.9 L234.1,602.0 L233.1,602.2 L232.1,602.4 L231.1,602.6 L230.1,602.7 L229.1,602.9 L228.1,603.1 L227.1,603.2 L226.1,603.4 L225.1,603.6 L224.1,603.7 L223.1,603.9 L222.1,604.1 L221.1,604.2 L220.1,604.4 L219.1,604.6 L218.1,604.8 L217.1,605.0 L216.1,605.1 L215.1,605.3 L214.1,605.5 L213.1,605.7 L212.1,605.9 L211.1,606.1 L210.1,606.3 L209.1,606.5 L208.1,606.7 L207.1,606.9 L206.1,607.1 L205.1,607.3 L204.1,607.5 L203.1,607.7 L202.1,607.9 L201.1,608.1 L200.1,608.3 L199.1,608.5 L198.1,608.7 L197.1,608.9 L196.1,609.1 L195.1,609.2 L194.1,609.4 L193.1,609.6 L192.1,609.8 L191.1,610.0 L190.1,610.1 L189.1,610.3 L188.1,610.5 L187.1,610.7 L186.1,610.8 L185.1,611.0 L184.1,611.2 L183.1,611.4 L182.1,611.5 L181.1,611.7 L180.1,611.9 L179.1,612.1 L178.1,612.2 L177.1,612.4 L176.1,612.6 L175.1,612.8 L174.1,613.0 L173.1,613.1 L172.1,613.3 L171.1,613.5 L170.1,613.7 L169.1,613.8 L168.1,614.0 L167.1,614.2 L166.1,614.3 L165.1,614.5 L164.1,614.7 L163.1,614.8 L162.1,615.0 L161.1,615.1 L160.1,615.3 L159.1,615.4 L158.1,615.6 L157.1,615.7 L156.1,615.9 L155.1,616.0 L154.1,616.2 L153.1,616.3 L152.1,616.5 L151.1,616.6 L150.1,616.8 L149.1,616.9 L148.1,617.1 L147.1,617.2 L146.1,617.4 L145.1,617.5 L144.1,617.6 L143.1,617.8 L142.1,617.9 L141.1,618.1 L140.1,618.2 L139.1,618.4 L138.1,618.5 L137.1,618.7 L136.1,618.8 L135.1,619.0 L134.1,619.1 L133.1,619.3 L132.1,619.4 L131.1,619.6 L130.1,619.8 L129.1,620.0 L128.1,620.2 L127.1,620.3 L126.1,620.5 L125.1,620.7 L124.1,621.0 L123.1,621.2 L122.1,621.4 L121.1,621.6 L120.1,621.9 L119.1,622.1 L118.1,622.4 L117.1,622.6 L116.1,622.9 L115.1,623.2 L114.1,623.5 L113.1,623.7 L112.1,624.0 L111.1,624.3 L110.1,624.5 L109.1,624.8 L108.1,625.1 L107.1,625.3 L106.1,625.6 L105.1,625.8 L104.1,626.1 L103.1,626.4 L102.1,626.7 L101.1,627.0 L100.1,627.3 L99.1,627.7 L98.1,628.0 L97.1,628.4 L96.1,628.9 L95.1,629.3 L94.1,629.8 L93.1,630.3 L92.1,630.8 L91.1,631.3 L90.1,631.8 L89.1,632.3 L88.1,632.9 L87.1,633.4 L86.1,633.9 L85.1,634.4 L84.1,634.9 L83.1,635.4 L82.1,635.9 L81.1,636.4 L80.1,636.9 L79.1,637.3 L78.1,637.8 L77.1,638.2 L76.1,638.6 L75.1,639.0 L74.1,639.4 L73.1,639.8 L72.1,640.2 L71.1,640.5 L70.1,640.9 L69.1,641.2 L68.1,641.5 L67.1,641.9 L66.1,642.2 L65.1,642.4 L64.1,642.7 L63.1,643.0 L62.1,643.3 L61.1,643.5 L60.1,643.8 L59.1,644.0 L58.1,644.2 L57.1,644.5 L56.1,644.7 L55.1,644.9 L54.1,645.1 L53.1,645.3 L52.1,645.5 L51.1,645.7 L50.1,645.9 L49.1,646.1 L48.1,646.3 L47.1,646.5 L46.1,646.6 L45.1,646.8 Z" fill="#e4eef8" stroke="none"/>
<line x1="31.40" y1="627.50" x2="332.00" y2="627.50" stroke="#4d4d4d" stroke-width="1.25" stroke-dasharray="3.5 3.257"/>
<line x1="97.40" y1="661.00" x2="97.40" y2="354.00" stroke="#4d4d4d" stroke-width="1.25" stroke-dasharray="3.5 3.257"/>
<path d="M45.1,643.2 L46.1,643.0 L47.1,642.8 L48.1,642.5 L49.1,642.3 L50.1,642.1 L51.1,641.9 L52.1,641.7 L53.1,641.5 L54.1,641.2 L55.1,641.0 L56.1,640.8 L57.1,640.5 L58.1,640.3 L59.1,640.0 L60.1,639.8 L61.1,639.5 L62.1,639.2 L63.1,639.0 L64.1,638.7 L65.1,638.4 L66.1,638.1 L67.1,637.8 L68.1,637.5 L69.1,637.2 L70.1,636.8 L71.1,636.5 L72.1,636.2 L73.1,635.8 L74.1,635.5 L75.1,635.2 L76.1,634.8 L77.1,634.5 L78.1,634.1 L79.1,633.8 L80.1,633.4 L81.1,633.1 L82.1,632.7 L83.1,632.4 L84.1,632.0 L85.1,631.7 L86.1,631.3 L87.1,631.0 L88.1,630.7 L89.1,630.3 L90.1,630.0 L91.1,629.6 L92.1,629.3 L93.1,629.0 L94.1,628.6 L95.1,628.3 L96.1,628.0 L97.1,627.7 L98.1,627.3 L99.1,627.0 L100.1,626.7 L101.1,626.4 L102.1,626.1 L103.1,625.7 L104.1,625.4 L105.1,625.1 L106.1,624.8 L107.1,624.5 L108.1,624.2 L109.1,623.8 L110.1,623.5 L111.1,623.2 L112.1,622.9 L113.1,622.6 L114.1,622.3 L115.1,621.9 L116.1,621.6 L117.1,621.3 L118.1,621.0 L119.1,620.7 L120.1,620.4 L121.1,620.0 L122.1,619.7 L123.1,619.4 L124.1,619.1 L125.1,618.8 L126.1,618.4 L127.1,618.1 L128.1,617.8 L129.1,617.5 L130.1,617.2 L131.1,616.8 L132.1,616.5 L133.1,616.2 L134.1,615.9 L135.1,615.6 L136.1,615.3 L137.1,615.0 L138.1,614.7 L139.1,614.4 L140.1,614.1 L141.1,613.8 L142.1,613.5 L143.1,613.2 L144.1,612.9 L145.1,612.6 L146.1,612.3 L147.1,612.0 L148.1,611.8 L149.1,611.5 L150.1,611.2 L151.1,610.9 L152.1,610.6 L153.1,610.4 L154.1,610.1 L155.1,609.8 L156.1,609.5 L157.1,609.2 L158.1,609.0 L159.1,608.7 L160.1,608.4 L161.1,608.1 L162.1,607.8 L163.1,607.5 L164.1,607.2 L165.1,606.9 L166.1,606.6 L167.1,606.3 L168.1,606.0 L169.1,605.7 L170.1,605.4 L171.1,605.1 L172.1,604.8 L173.1,604.4 L174.1,604.1 L175.1,603.8 L176.1,603.4 L177.1,603.1 L178.1,602.7 L179.1,602.3 L180.1,602.0 L181.1,601.6 L182.1,601.2 L183.1,600.8 L184.1,600.5 L185.1,600.1 L186.1,599.7 L187.1,599.3 L188.1,598.9 L189.1,598.5 L190.1,598.1 L191.1,597.7 L192.1,597.3 L193.1,596.9 L194.1,596.5 L195.1,596.1 L196.1,595.6 L197.1,595.2 L198.1,594.8 L199.1,594.4 L200.1,594.0 L201.1,593.6 L202.1,593.2 L203.1,592.8 L204.1,592.4 L205.1,592.0 L206.1,591.6 L207.1,591.2 L208.1,590.8 L209.1,590.3 L210.1,589.9 L211.1,589.5 L212.1,589.1 L213.1,588.7 L214.1,588.3 L215.1,587.8 L216.1,587.4 L217.1,587.0 L218.1,586.5 L219.1,586.1 L220.1,585.6 L221.1,585.2 L222.1,584.7 L223.1,584.3 L224.1,583.8 L225.1,583.3 L226.1,582.9 L227.1,582.4 L228.1,581.9 L229.1,581.4 L230.1,580.9 L231.1,580.4 L232.1,579.9 L233.1,579.4 L234.1,578.9 L235.1,578.4 L236.1,577.9 L237.1,577.4 L238.1,576.9 L239.1,576.4 L240.1,575.8 L241.1,575.3 L242.1,574.8 L243.1,574.2 L244.1,573.7 L245.1,573.1 L246.1,572.6 L247.1,572.0 L248.1,571.5 L249.1,570.9 L250.1,570.3 L251.1,569.8 L252.1,569.2 L253.1,568.6 L254.1,568.0 L255.1,567.4 L256.1,566.8 L257.1,566.2 L258.1,565.6 L259.1,565.0 L260.1,564.4 L261.1,563.8 L262.1,563.2 L263.1,562.6 L264.1,562.0 L265.1,561.4 L266.1,560.7 L267.1,560.1 L268.1,559.5 L269.1,558.8 L270.1,558.2 L271.1,557.5 L272.1,556.9 L273.1,556.2 L274.1,555.6 L275.1,554.9 L276.1,554.2 L277.1,553.5 L278.1,552.9 L279.1,552.2 L280.1,551.5 L281.1,550.8 L282.1,550.1 L283.1,549.4 L284.1,548.7 L285.1,548.0 L286.1,547.3 L287.1,546.6 L288.1,545.8 L289.1,545.1 L290.1,544.4 L291.1,543.6 L292.1,542.9 L293.1,542.1 L294.1,541.4 L295.1,540.6 L296.1,539.9 L297.1,539.1 L298.1,538.3 L299.1,537.5 L300.1,536.7 L301.1,536.0 L302.1,535.2 L303.1,534.4 L304.1,533.6 L305.1,532.8 L306.1,532.0 L307.1,531.2 L308.1,530.4 L309.1,529.5 L310.1,528.7 L311.1,527.9 L312.1,527.1 L313.1,526.3 L314.1,525.5 L315.1,524.7 L316.1,523.9 L317.1,523.1 L318.1,522.3 L318.4,522.0" fill="none" stroke="#3d8fcb" stroke-width="1.55" stroke-linejoin="round" stroke-linecap="butt"/>
<rect x="93.40" y="370.80" width="8" height="37.60" fill="#fff"/>
<line x1="31.40" y1="354.00" x2="31.40" y2="661.55" stroke="#595959" stroke-width="1.45"/>
<line x1="30.85" y1="661.00" x2="332.00" y2="661.00" stroke="#595959" stroke-width="1.45"/>
<line x1="29.20" y1="656.90" x2="31.40" y2="656.90" stroke="#595959" stroke-width="1.0"/>
<text x="27.90" y="659.60" class="tk" text-anchor="end">0,0</text>
<line x1="29.20" y1="584.10" x2="31.40" y2="584.10" stroke="#595959" stroke-width="1.0"/>
<text x="27.90" y="586.80" class="tk" text-anchor="end">2,5</text>
<line x1="29.20" y1="511.20" x2="31.40" y2="511.20" stroke="#595959" stroke-width="1.0"/>
<text x="27.90" y="513.90" class="tk" text-anchor="end">5,0</text>
<line x1="29.20" y1="438.40" x2="31.40" y2="438.40" stroke="#595959" stroke-width="1.0"/>
<text x="27.90" y="441.10" class="tk" text-anchor="end">7,5</text>
<line x1="29.20" y1="365.60" x2="31.40" y2="365.60" stroke="#595959" stroke-width="1.0"/>
<text x="27.90" y="368.30" class="tk" text-anchor="end">10,0</text>
<line x1="92.30" y1="661.00" x2="92.30" y2="663.20" stroke="#595959" stroke-width="1.0"/>
<text x="92.30" y="670.50" class="tk" text-anchor="middle">5</text>
<line x1="155.20" y1="661.00" x2="155.20" y2="663.20" stroke="#595959" stroke-width="1.0"/>
<text x="155.20" y="670.50" class="tk" text-anchor="middle">10</text>
<line x1="218.30" y1="661.00" x2="218.30" y2="663.20" stroke="#595959" stroke-width="1.0"/>
<text x="218.30" y="670.50" class="tk" text-anchor="middle">15</text>
<line x1="280.80" y1="661.00" x2="280.80" y2="663.20" stroke="#595959" stroke-width="1.0"/>
<text x="280.80" y="670.50" class="tk" text-anchor="middle">20</text>
<text x="181.70" y="679.40" class="at" text-anchor="middle">BRI</text>
<text x="0" y="0" class="at" text-anchor="middle" transform="translate(10.20,506.00) rotate(-90)">OR(95%CI)</text>
<text x="331.80" y="358.90" class="an" text-anchor="end">P for non−linearity:  &lt;0,001</text>
<text x="331.80" y="367.90" class="an" text-anchor="end">P for overall:  &lt;0,001</text>
<text x="331.80" y="376.50" class="an" text-anchor="end">Ref point:  5,38</text>
<text x="48.90" y="396.70" class="ti" textLength="93.20" lengthAdjust="spacing">OA Model 2</text>
<path d="M383.0,627.0 L384.0,626.6 L385.0,626.3 L386.0,626.0 L387.0,625.6 L388.0,625.3 L389.0,625.0 L390.0,624.6 L391.0,624.3 L392.0,624.0 L393.0,623.7 L394.0,623.4 L395.0,623.0 L396.0,622.7 L397.0,622.4 L398.0,622.1 L399.0,621.8 L400.0,621.5 L401.0,621.2 L402.0,620.9 L403.0,620.6 L404.0,620.3 L405.0,620.0 L406.0,619.7 L407.0,619.4 L408.0,619.1 L409.0,618.8 L410.0,618.5 L411.0,618.2 L412.0,617.9 L413.0,617.6 L414.0,617.3 L415.0,616.9 L416.0,616.6 L417.0,616.2 L418.0,615.9 L419.0,615.5 L420.0,615.1 L421.0,614.8 L422.0,614.4 L423.0,614.0 L424.0,613.6 L425.0,613.2 L426.0,612.8 L427.0,612.4 L428.0,611.9 L429.0,611.5 L430.0,611.0 L431.0,610.5 L432.0,610.0 L433.0,609.5 L434.0,608.9 L435.0,608.3 L436.0,607.7 L437.0,607.1 L438.0,606.4 L439.0,605.6 L440.0,604.9 L441.0,604.1 L442.0,603.4 L443.0,602.6 L444.0,601.9 L445.0,601.2 L446.0,600.5 L447.0,599.8 L448.0,599.2 L449.0,598.6 L450.0,598.0 L451.0,597.4 L452.0,596.9 L453.0,596.3 L454.0,595.8 L455.0,595.3 L456.0,594.7 L457.0,594.2 L458.0,593.7 L459.0,593.2 L460.0,592.8 L461.0,592.3 L462.0,591.8 L463.0,591.4 L464.0,591.0 L465.0,590.6 L466.0,590.2 L467.0,589.8 L468.0,589.4 L469.0,589.0 L470.0,588.7 L471.0,588.3 L472.0,588.0 L473.0,587.6 L474.0,587.2 L475.0,586.9 L476.0,586.5 L477.0,586.1 L478.0,585.7 L479.0,585.3 L480.0,584.8 L481.0,584.4 L482.0,584.0 L483.0,583.5 L484.0,583.1 L485.0,582.6 L486.0,582.1 L487.0,581.7 L488.0,581.2 L489.0,580.7 L490.0,580.2 L491.0,579.7 L492.0,579.2 L493.0,578.7 L494.0,578.2 L495.0,577.7 L496.0,577.1 L497.0,576.6 L498.0,576.0 L499.0,575.4 L500.0,574.8 L501.0,574.1 L502.0,573.4 L503.0,572.7 L504.0,572.0 L505.0,571.2 L506.0,570.5 L507.0,569.7 L508.0,568.9 L509.0,568.1 L510.0,567.3 L511.0,566.5 L512.0,565.7 L513.0,564.9 L514.0,564.1 L515.0,563.4 L516.0,562.6 L517.0,561.8 L518.0,561.0 L519.0,560.2 L520.0,559.5 L521.0,558.7 L522.0,557.9 L523.0,557.1 L524.0,556.3 L525.0,555.5 L526.0,554.7 L527.0,553.9 L528.0,553.1 L529.0,552.2 L530.0,551.4 L531.0,550.6 L532.0,549.7 L533.0,548.9 L534.0,548.0 L535.0,547.2 L536.0,546.3 L537.0,545.4 L538.0,544.5 L539.0,543.7 L540.0,542.8 L541.0,541.9 L542.0,541.0 L543.0,540.1 L544.0,539.2 L545.0,538.3 L546.0,537.4 L547.0,536.5 L548.0,535.7 L549.0,534.8 L550.0,533.9 L551.0,533.0 L552.0,532.1 L553.0,531.2 L554.0,530.3 L555.0,529.4 L556.0,528.5 L557.0,527.6 L558.0,526.7 L559.0,525.8 L560.0,524.9 L561.0,524.0 L562.0,523.0 L563.0,522.0 L564.0,521.1 L565.0,520.0 L566.0,519.0 L567.0,518.0 L568.0,516.9 L569.0,515.8 L570.0,514.7 L571.0,513.6 L572.0,512.4 L573.0,511.3 L574.0,510.1 L575.0,509.0 L576.0,507.8 L577.0,506.6 L578.0,505.4 L579.0,504.2 L580.0,503.0 L581.0,501.7 L582.0,500.5 L583.0,499.2 L584.0,498.0 L585.0,496.7 L586.0,495.4 L587.0,494.1 L588.0,492.7 L589.0,491.4 L590.0,490.1 L591.0,488.7 L592.0,487.3 L593.0,485.9 L594.0,484.5 L595.0,483.1 L596.0,481.7 L597.0,480.2 L598.0,478.8 L599.0,477.3 L600.0,475.8 L601.0,474.3 L602.0,472.9 L603.0,471.4 L604.0,469.9 L605.0,468.4 L606.0,466.9 L607.0,465.5 L608.0,464.0 L609.0,462.6 L610.0,461.1 L611.0,459.7 L612.0,458.4 L613.0,457.0 L614.0,455.7 L615.0,454.4 L616.0,453.1 L617.0,451.8 L618.0,450.6 L619.0,449.3 L620.0,448.1 L621.0,446.8 L622.0,445.6 L623.0,444.3 L624.0,443.0 L625.0,441.7 L626.0,440.3 L627.0,439.0 L628.0,437.6 L629.0,436.2 L630.0,434.7 L631.0,433.3 L632.0,431.7 L633.0,430.2 L634.0,428.6 L635.0,427.0 L636.0,425.4 L637.0,423.7 L638.0,422.0 L639.0,420.3 L640.0,418.6 L641.0,416.9 L642.0,415.1 L643.0,413.4 L644.0,411.6 L645.0,409.8 L646.0,408.0 L647.0,406.2 L648.0,404.4 L649.0,402.6 L650.0,400.7 L651.0,398.9 L652.0,397.1 L653.0,395.3 L654.0,393.4 L655.0,391.6 L656.0,389.7 L657.0,387.9 L658.0,386.0 L659.0,384.0 L660.0,382.1 L661.0,380.2 L662.0,378.2 L663.0,376.2 L664.0,374.2 L665.0,372.2 L665.0,600.2 L664.0,600.2 L663.0,600.2 L662.0,600.2 L661.0,600.1 L660.0,600.1 L659.0,600.1 L658.0,600.1 L657.0,600.1 L656.0,600.1 L655.0,600.0 L654.0,600.0 L653.0,600.0 L652.0,600.0 L651.0,600.0 L650.0,599.9 L649.0,599.9 L648.0,599.9 L647.0,599.9 L646.0,599.9 L645.0,599.9 L644.0,599.8 L643.0,599.8 L642.0,599.8 L641.0,599.8 L640.0,599.8 L639.0,599.8 L638.0,599.7 L637.0,599.7 L636.0,599.7 L635.0,599.7 L634.0,599.7 L633.0,599.6 L632.0,599.6 L631.0,599.6 L630.0,599.6 L629.0,599.6 L628.0,599.6 L627.0,599.5 L626.0,599.5 L625.0,599.5 L624.0,599.5 L623.0,599.5 L622.0,599.4 L621.0,599.4 L620.0,599.4 L619.0,599.4 L618.0,599.4 L617.0,599.3 L616.0,599.3 L615.0,599.3 L614.0,599.3 L613.0,599.3 L612.0,599.2 L611.0,599.2 L610.0,599.2 L609.0,599.2 L608.0,599.1 L607.0,599.1 L606.0,599.1 L605.0,599.1 L604.0,599.1 L603.0,599.0 L602.0,599.0 L601.0,599.0 L600.0,599.0 L599.0,599.0 L598.0,598.9 L597.0,598.9 L596.0,598.9 L595.0,598.9 L594.0,598.9 L593.0,598.8 L592.0,598.8 L591.0,598.8 L590.0,598.8 L589.0,598.8 L588.0,598.7 L587.0,598.7 L586.0,598.7 L585.0,598.7 L584.0,598.7 L583.0,598.7 L582.0,598.6 L581.0,598.6 L580.0,598.6 L579.0,598.6 L578.0,598.6 L577.0,598.6 L576.0,598.5 L575.0,598.5 L574.0,598.5 L573.0,598.5 L572.0,598.5 L571.0,598.5 L570.0,598.5 L569.0,598.4 L568.0,598.4 L567.0,598.4 L566.0,598.4 L565.0,598.4 L564.0,598.4 L563.0,598.4 L562.0,598.3 L561.0,598.3 L560.0,598.3 L559.0,598.3 L558.0,598.3 L557.0,598.3 L556.0,598.3 L555.0,598.3 L554.0,598.2 L553.0,598.2 L552.0,598.2 L551.0,598.2 L550.0,598.2 L549.0,598.2 L548.0,598.1 L547.0,598.1 L546.0,598.1 L545.0,598.1 L544.0,598.1 L543.0,598.1 L542.0,598.0 L541.0,598.0 L540.0,598.0 L539.0,598.0 L538.0,598.0 L537.0,598.0 L536.0,597.9 L535.0,597.9 L534.0,597.9 L533.0,597.9 L532.0,597.9 L531.0,597.8 L530.0,597.8 L529.0,597.8 L528.0,597.8 L527.0,597.8 L526.0,597.7 L525.0,597.7 L524.0,597.7 L523.0,597.7 L522.0,597.7 L521.0,597.7 L520.0,597.7 L519.0,597.6 L518.0,597.6 L517.0,597.6 L516.0,597.6 L515.0,597.6 L514.0,597.6 L513.0,597.6 L512.0,597.6 L511.0,597.6 L510.0,597.6 L509.0,597.6 L508.0,597.6 L507.0,597.6 L506.0,597.6 L505.0,597.6 L504.0,597.6 L503.0,597.6 L502.0,597.6 L501.0,597.6 L500.0,597.6 L499.0,597.6 L498.0,597.7 L497.0,597.7 L496.0,597.7 L495.0,597.7 L494.0,597.8 L493.0,597.8 L492.0,597.9 L491.0,597.9 L490.0,597.9 L489.0,598.0 L488.0,598.0 L487.0,598.1 L486.0,598.1 L485.0,598.2 L484.0,598.2 L483.0,598.2 L482.0,598.3 L481.0,598.3 L480.0,598.4 L479.0,598.4 L478.0,598.5 L477.0,598.5 L476.0,598.6 L475.0,598.6 L474.0,598.6 L473.0,598.7 L472.0,598.7 L471.0,598.8 L470.0,598.8 L469.0,598.9 L468.0,599.0 L467.0,599.1 L466.0,599.1 L465.0,599.2 L464.0,599.4 L463.0,599.5 L462.0,599.6 L461.0,599.8 L460.0,599.9 L459.0,600.1 L458.0,600.3 L457.0,600.5 L456.0,600.8 L455.0,601.0 L454.0,601.3 L453.0,601.5 L452.0,601.8 L451.0,602.1 L450.0,602.5 L449.0,602.8 L448.0,603.2 L447.0,603.6 L446.0,604.0 L445.0,604.5 L444.0,605.0 L443.0,605.5 L442.0,606.0 L441.0,606.6 L440.0,607.2 L439.0,607.9 L438.0,608.6 L437.0,609.3 L436.0,610.0 L435.0,610.8 L434.0,611.6 L433.0,612.5 L432.0,613.4 L431.0,614.3 L430.0,615.2 L429.0,616.1 L428.0,617.1 L427.0,618.1 L426.0,619.0 L425.0,620.0 L424.0,621.0 L423.0,622.0 L422.0,623.0 L421.0,624.1 L420.0,625.1 L419.0,626.0 L418.0,627.0 L417.0,628.0 L416.0,628.9 L415.0,629.9 L414.0,630.8 L413.0,631.7 L412.0,632.5 L411.0,633.4 L410.0,634.2 L409.0,635.0 L408.0,635.7 L407.0,636.5 L406.0,637.2 L405.0,637.8 L404.0,638.5 L403.0,639.1 L402.0,639.6 L401.0,640.2 L400.0,640.7 L399.0,641.2 L398.0,641.7 L397.0,642.2 L396.0,642.6 L395.0,643.1 L394.0,643.5 L393.0,643.9 L392.0,644.3 L391.0,644.7 L390.0,645.1 L389.0,645.5 L388.0,645.8 L387.0,646.2 L386.0,646.6 L385.0,646.9 L384.0,647.3 L383.0,647.7 Z" fill="#e4eef8" stroke="none"/>
<line x1="368.90" y1="608.90" x2="679.20" y2="608.90" stroke="#4d4d4d" stroke-width="1.25" stroke-dasharray="3.5 3.257"/>
<line x1="436.60" y1="662.00" x2="436.60" y2="354.80" stroke="#4d4d4d" stroke-width="1.25" stroke-dasharray="3.5 3.257"/>
<path d="M383.0,640.5 L384.0,640.1 L385.0,639.6 L386.0,639.1 L387.0,638.7 L388.0,638.2 L389.0,637.8 L390.0,637.3 L391.0,636.8 L392.0,636.4 L393.0,635.9 L394.0,635.4 L395.0,634.9 L396.0,634.4 L397.0,633.9 L398.0,633.4 L399.0,632.8 L400.0,632.3 L401.0,631.8 L402.0,631.2 L403.0,630.7 L404.0,630.1 L405.0,629.5 L406.0,628.9 L407.0,628.3 L408.0,627.7 L409.0,627.1 L410.0,626.4 L411.0,625.8 L412.0,625.2 L413.0,624.5 L414.0,623.8 L415.0,623.2 L416.0,622.5 L417.0,621.8 L418.0,621.1 L419.0,620.4 L420.0,619.8 L421.0,619.1 L422.0,618.4 L423.0,617.7 L424.0,617.0 L425.0,616.3 L426.0,615.6 L427.0,614.9 L428.0,614.2 L429.0,613.5 L430.0,612.9 L431.0,612.2 L432.0,611.5 L433.0,610.9 L434.0,610.2 L435.0,609.6 L436.0,608.9 L437.0,608.3 L438.0,607.7 L439.0,607.1 L440.0,606.5 L441.0,605.9 L442.0,605.3 L443.0,604.7 L444.0,604.2 L445.0,603.6 L446.0,603.1 L447.0,602.6 L448.0,602.0 L449.0,601.5 L450.0,601.1 L451.0,600.6 L452.0,600.1 L453.0,599.7 L454.0,599.2 L455.0,598.8 L456.0,598.4 L457.0,598.0 L458.0,597.6 L459.0,597.2 L460.0,596.8 L461.0,596.4 L462.0,596.1 L463.0,595.7 L464.0,595.4 L465.0,595.0 L466.0,594.7 L467.0,594.4 L468.0,594.1 L469.0,593.8 L470.0,593.5 L471.0,593.2 L472.0,592.9 L473.0,592.6 L474.0,592.3 L475.0,592.0 L476.0,591.8 L477.0,591.5 L478.0,591.2 L479.0,591.0 L480.0,590.7 L481.0,590.5 L482.0,590.2 L483.0,590.0 L484.0,589.8 L485.0,589.5 L486.0,589.3 L487.0,589.0 L488.0,588.8 L489.0,588.6 L490.0,588.4 L491.0,588.1 L492.0,587.9 L493.0,587.7 L494.0,587.4 L495.0,587.2 L496.0,587.0 L497.0,586.8 L498.0,586.5 L499.0,586.3 L500.0,586.1 L501.0,585.8 L502.0,585.6 L503.0,585.3 L504.0,585.1 L505.0,584.9 L506.0,584.6 L507.0,584.4 L508.0,584.1 L509.0,583.9 L510.0,583.6 L511.0,583.3 L512.0,583.1 L513.0,582.8 L514.0,582.5 L515.0,582.3 L516.0,582.0 L517.0,581.7 L518.0,581.4 L519.0,581.2 L520.0,580.9 L521.0,580.6 L522.0,580.3 L523.0,580.0 L524.0,579.7 L525.0,579.4 L526.0,579.1 L527.0,578.8 L528.0,578.5 L529.0,578.2 L530.0,577.9 L531.0,577.6 L532.0,577.3 L533.0,577.0 L534.0,576.7 L535.0,576.4 L536.0,576.0 L537.0,575.7 L538.0,575.4 L539.0,575.1 L540.0,574.8 L541.0,574.5 L542.0,574.2 L543.0,573.9 L544.0,573.5 L545.0,573.2 L546.0,572.9 L547.0,572.6 L548.0,572.3 L549.0,572.0 L550.0,571.7 L551.0,571.4 L552.0,571.1 L553.0,570.8 L554.0,570.5 L555.0,570.2 L556.0,569.9 L557.0,569.6 L558.0,569.3 L559.0,569.0 L560.0,568.7 L561.0,568.4 L562.0,568.1 L563.0,567.8 L564.0,567.5 L565.0,567.3 L566.0,567.0 L567.0,566.7 L568.0,566.4 L569.0,566.1 L570.0,565.8 L571.0,565.5 L572.0,565.3 L573.0,565.0 L574.0,564.7 L575.0,564.4 L576.0,564.1 L577.0,563.8 L578.0,563.6 L579.0,563.3 L580.0,563.0 L581.0,562.7 L582.0,562.4 L583.0,562.1 L584.0,561.9 L585.0,561.6 L586.0,561.3 L587.0,561.0 L588.0,560.7 L589.0,560.4 L590.0,560.1 L591.0,559.8 L592.0,559.5 L593.0,559.2 L594.0,558.9 L595.0,558.6 L596.0,558.3 L597.0,558.0 L598.0,557.7 L599.0,557.4 L600.0,557.1 L601.0,556.8 L602.0,556.4 L603.0,556.1 L604.0,555.8 L605.0,555.5 L606.0,555.1 L607.0,554.8 L608.0,554.5 L609.0,554.1 L610.0,553.8 L611.0,553.4 L612.0,553.1 L613.0,552.7 L614.0,552.4 L615.0,552.0 L616.0,551.6 L617.0,551.3 L618.0,550.9 L619.0,550.5 L620.0,550.1 L621.0,549.8 L622.0,549.4 L623.0,549.0 L624.0,548.6 L625.0,548.2 L626.0,547.8 L627.0,547.4 L628.0,547.0 L629.0,546.6 L630.0,546.2 L631.0,545.8 L632.0,545.4 L633.0,545.0 L634.0,544.5 L635.0,544.1 L636.0,543.7 L637.0,543.3 L638.0,542.9 L639.0,542.4 L640.0,542.0 L641.0,541.6 L642.0,541.2 L643.0,540.7 L644.0,540.3 L645.0,539.9 L646.0,539.4 L647.0,539.0 L648.0,538.6 L649.0,538.1 L650.0,537.7 L651.0,537.3 L652.0,536.8 L653.0,536.4 L654.0,535.9 L655.0,535.5 L656.0,535.0 L657.0,534.6 L658.0,534.2 L659.0,533.7 L660.0,533.3 L661.0,532.8 L662.0,532.4 L663.0,531.9 L664.0,531.5 L665.0,531.0" fill="none" stroke="#3d8fcb" stroke-width="1.55" stroke-linejoin="round" stroke-linecap="butt"/>
<rect x="432.60" y="369.60" width="8" height="35.10" fill="#fff"/>
<line x1="368.90" y1="354.80" x2="368.90" y2="662.55" stroke="#595959" stroke-width="1.45"/>
<line x1="368.35" y1="662.00" x2="679.20" y2="662.00" stroke="#595959" stroke-width="1.45"/>
<line x1="366.70" y1="660.40" x2="368.90" y2="660.40" stroke="#595959" stroke-width="1.0"/>
<text x="365.40" y="663.10" class="tk" text-anchor="end">0</text>
<line x1="366.70" y1="608.80" x2="368.90" y2="608.80" stroke="#595959" stroke-width="1.0"/>
<text x="365.40" y="611.50" class="tk" text-anchor="end">1</text>
<line x1="366.70" y1="557.10" x2="368.90" y2="557.10" stroke="#595959" stroke-width="1.0"/>
<text x="365.40" y="559.80" class="tk" text-anchor="end">2</text>
<line x1="366.70" y1="505.30" x2="368.90" y2="505.30" stroke="#595959" stroke-width="1.0"/>
<text x="365.40" y="508.00" class="tk" text-anchor="end">3</text>
<line x1="366.70" y1="453.60" x2="368.90" y2="453.60" stroke="#595959" stroke-width="1.0"/>
<text x="365.40" y="456.30" class="tk" text-anchor="end">4</text>
<line x1="366.70" y1="401.80" x2="368.90" y2="401.80" stroke="#595959" stroke-width="1.0"/>
<text x="365.40" y="404.50" class="tk" text-anchor="end">5</text>
<line x1="431.60" y1="662.00" x2="431.60" y2="664.20" stroke="#595959" stroke-width="1.0"/>
<text x="431.60" y="671.50" class="tk" text-anchor="middle">5</text>
<line x1="496.50" y1="662.00" x2="496.50" y2="664.20" stroke="#595959" stroke-width="1.0"/>
<text x="496.50" y="671.50" class="tk" text-anchor="middle">10</text>
<line x1="561.40" y1="662.00" x2="561.40" y2="664.20" stroke="#595959" stroke-width="1.0"/>
<text x="561.40" y="671.50" class="tk" text-anchor="middle">15</text>
<line x1="626.30" y1="662.00" x2="626.30" y2="664.20" stroke="#595959" stroke-width="1.0"/>
<text x="626.30" y="671.50" class="tk" text-anchor="middle">20</text>
<text x="524.05" y="680.40" class="at" text-anchor="middle">BRI</text>
<text x="0" y="0" class="at" text-anchor="middle" transform="translate(357.50,509.20) rotate(-90)">OR(95%CI)</text>
<text x="678.90" y="360.30" class="an" text-anchor="end">P for non−linearity:  &lt;0,001</text>
<text x="678.90" y="368.90" class="an" text-anchor="end">P for overall:  0,002</text>
<text x="678.90" y="377.30" class="an" text-anchor="end">Ref point:  5,38</text>
<text x="391.60" y="392.90" class="ti" textLength="90.40" lengthAdjust="spacing">RA Model 2</text>
<path d="M36.0,966.4 L37.0,966.5 L38.0,966.6 L39.0,966.6 L40.0,966.7 L41.0,966.8 L42.0,966.8 L43.0,966.9 L44.0,967.0 L45.0,967.1 L46.0,967.1 L47.0,967.2 L48.0,967.3 L49.0,967.3 L50.0,967.4 L51.0,967.4 L52.0,967.5 L53.0,967.5 L54.0,967.6 L55.0,967.6 L56.0,967.7 L57.0,967.7 L58.0,967.8 L59.0,967.9 L60.0,967.9 L61.0,968.0 L62.0,968.0 L63.0,968.1 L64.0,968.1 L65.0,968.2 L66.0,968.2 L67.0,968.3 L68.0,968.4 L69.0,968.5 L70.0,968.5 L71.0,968.6 L72.0,968.7 L73.0,968.8 L74.0,968.8 L75.0,968.9 L76.0,969.0 L77.0,969.1 L78.0,969.1 L79.0,969.2 L80.0,969.2 L81.0,969.2 L82.0,969.2 L83.0,969.2 L84.0,969.2 L85.0,969.1 L86.0,969.1 L87.0,969.0 L88.0,968.8 L89.0,968.7 L90.0,968.5 L91.0,968.3 L92.0,968.0 L93.0,967.8 L94.0,967.5 L95.0,967.1 L96.0,966.8 L97.0,966.4 L98.0,966.1 L99.0,965.7 L100.0,965.2 L101.0,964.8 L102.0,964.4 L103.0,963.9 L104.0,963.5 L105.0,963.0 L106.0,962.5 L107.0,962.1 L108.0,961.6 L109.0,961.1 L110.0,960.6 L111.0,960.1 L112.0,959.7 L113.0,959.2 L114.0,958.7 L115.0,958.2 L116.0,957.7 L117.0,957.3 L118.0,956.8 L119.0,956.3 L120.0,955.8 L121.0,955.4 L122.0,954.9 L123.0,954.4 L124.0,953.9 L125.0,953.4 L126.0,953.0 L127.0,952.5 L128.0,952.0 L129.0,951.5 L130.0,951.0 L131.0,950.5 L132.0,950.0 L133.0,949.5 L134.0,949.0 L135.0,948.5 L136.0,947.9 L137.0,947.4 L138.0,946.9 L139.0,946.3 L140.0,945.8 L141.0,945.3 L142.0,944.7 L143.0,944.1 L144.0,943.6 L145.0,943.0 L146.0,942.4 L147.0,941.8 L148.0,941.3 L149.0,940.7 L150.0,940.0 L151.0,939.4 L152.0,938.8 L153.0,938.2 L154.0,937.6 L155.0,936.9 L156.0,936.3 L157.0,935.6 L158.0,935.0 L159.0,934.3 L160.0,933.7 L161.0,933.0 L162.0,932.4 L163.0,931.7 L164.0,931.1 L165.0,930.4 L166.0,929.8 L167.0,929.1 L168.0,928.4 L169.0,927.8 L170.0,927.1 L171.0,926.5 L172.0,925.8 L173.0,925.1 L174.0,924.5 L175.0,923.8 L176.0,923.1 L177.0,922.4 L178.0,921.7 L179.0,921.0 L180.0,920.4 L181.0,919.7 L182.0,919.0 L183.0,918.3 L184.0,917.6 L185.0,916.9 L186.0,916.2 L187.0,915.6 L188.0,914.9 L189.0,914.2 L190.0,913.4 L191.0,912.7 L192.0,912.0 L193.0,911.2 L194.0,910.4 L195.0,909.6 L196.0,908.7 L197.0,907.8 L198.0,906.9 L199.0,905.9 L200.0,904.9 L201.0,903.9 L202.0,902.9 L203.0,901.8 L204.0,900.7 L205.0,899.6 L206.0,898.5 L207.0,897.4 L208.0,896.3 L209.0,895.2 L210.0,894.1 L211.0,892.9 L212.0,891.8 L213.0,890.7 L214.0,889.6 L215.0,888.5 L216.0,887.4 L217.0,886.3 L218.0,885.2 L219.0,884.2 L220.0,883.1 L221.0,882.1 L222.0,881.0 L223.0,880.0 L224.0,878.9 L225.0,877.9 L226.0,876.9 L227.0,875.8 L228.0,874.8 L229.0,873.7 L230.0,872.6 L231.0,871.5 L232.0,870.4 L233.0,869.3 L234.0,868.2 L235.0,867.0 L236.0,865.8 L237.0,864.7 L238.0,863.4 L239.0,862.2 L240.0,861.0 L241.0,859.7 L242.0,858.5 L243.0,857.2 L244.0,855.9 L245.0,854.6 L246.0,853.3 L247.0,851.9 L248.0,850.6 L249.0,849.2 L250.0,847.9 L251.0,846.5 L252.0,845.1 L253.0,843.7 L254.0,842.3 L255.0,840.8 L256.0,839.4 L257.0,837.9 L258.0,836.4 L259.0,834.9 L260.0,833.4 L261.0,831.9 L262.0,830.4 L263.0,828.8 L264.0,827.2 L265.0,825.6 L266.0,823.9 L267.0,822.3 L268.0,820.6 L269.0,818.9 L270.0,817.2 L271.0,815.5 L272.0,813.7 L273.0,812.0 L274.0,810.2 L275.0,808.5 L276.0,806.7 L277.0,805.0 L278.0,803.2 L279.0,801.3 L280.0,799.5 L281.0,797.5 L282.0,795.6 L283.0,793.6 L284.0,791.6 L285.0,789.5 L286.0,787.4 L287.0,785.3 L288.0,783.2 L289.0,781.1 L290.0,779.0 L291.0,776.9 L292.0,774.8 L293.0,772.6 L294.0,770.5 L295.0,768.3 L296.0,766.2 L297.0,764.0 L298.0,761.9 L299.0,759.7 L300.0,757.5 L301.0,755.4 L302.0,753.2 L303.0,750.9 L304.0,748.7 L305.0,746.5 L306.0,744.3 L307.0,742.0 L308.0,739.8 L309.0,737.5 L310.0,735.2 L311.0,732.9 L312.0,730.6 L313.0,728.2 L314.0,725.8 L315.0,723.5 L316.0,721.0 L317.0,718.6 L318.0,716.2 L318.1,715.9 L318.0,950.4 L317.0,950.5 L316.0,950.5 L315.0,950.6 L314.0,950.7 L313.0,950.7 L312.0,950.8 L311.0,950.8 L310.0,950.9 L309.0,951.0 L308.0,951.0 L307.0,951.1 L306.0,951.2 L305.0,951.2 L304.0,951.3 L303.0,951.4 L302.0,951.4 L301.0,951.5 L300.0,951.6 L299.0,951.6 L298.0,951.7 L297.0,951.8 L296.0,951.8 L295.0,951.9 L294.0,952.0 L293.0,952.0 L292.0,952.1 L291.0,952.2 L290.0,952.2 L289.0,952.3 L288.0,952.4 L287.0,952.4 L286.0,952.5 L285.0,952.6 L284.0,952.6 L283.0,952.7 L282.0,952.8 L281.0,952.8 L280.0,952.9 L279.0,953.0 L278.0,953.0 L277.0,953.1 L276.0,953.2 L275.0,953.3 L274.0,953.3 L273.0,953.4 L272.0,953.5 L271.0,953.6 L270.0,953.6 L269.0,953.7 L268.0,953.8 L267.0,953.9 L266.0,953.9 L265.0,954.0 L264.0,954.1 L263.0,954.2 L262.0,954.2 L261.0,954.3 L260.0,954.4 L259.0,954.5 L258.0,954.5 L257.0,954.6 L256.0,954.7 L255.0,954.8 L254.0,954.9 L253.0,954.9 L252.0,955.0 L251.0,955.1 L250.0,955.2 L249.0,955.3 L248.0,955.3 L247.0,955.4 L246.0,955.5 L245.0,955.6 L244.0,955.6 L243.0,955.7 L242.0,955.8 L241.0,955.9 L240.0,956.0 L239.0,956.0 L238.0,956.1 L237.0,956.2 L236.0,956.2 L235.0,956.3 L234.0,956.4 L233.0,956.5 L232.0,956.5 L231.0,956.6 L230.0,956.7 L229.0,956.7 L228.0,956.8 L227.0,956.9 L226.0,956.9 L225.0,957.0 L224.0,957.1 L223.0,957.1 L222.0,957.2 L221.0,957.2 L220.0,957.3 L219.0,957.3 L218.0,957.4 L217.0,957.5 L216.0,957.5 L215.0,957.6 L214.0,957.6 L213.0,957.7 L212.0,957.7 L211.0,957.8 L210.0,957.8 L209.0,957.9 L208.0,957.9 L207.0,958.0 L206.0,958.1 L205.0,958.1 L204.0,958.2 L203.0,958.2 L202.0,958.3 L201.0,958.3 L200.0,958.4 L199.0,958.5 L198.0,958.5 L197.0,958.6 L196.0,958.6 L195.0,958.7 L194.0,958.8 L193.0,958.8 L192.0,958.9 L191.0,959.0 L190.0,959.0 L189.0,959.1 L188.0,959.2 L187.0,959.3 L186.0,959.3 L185.0,959.4 L184.0,959.5 L183.0,959.6 L182.0,959.7 L181.0,959.8 L180.0,959.9 L179.0,959.9 L178.0,960.0 L177.0,960.1 L176.0,960.2 L175.0,960.3 L174.0,960.4 L173.0,960.5 L172.0,960.6 L171.0,960.6 L170.0,960.7 L169.0,960.8 L168.0,960.9 L167.0,961.0 L166.0,961.0 L165.0,961.1 L164.0,961.2 L163.0,961.2 L162.0,961.3 L161.0,961.4 L160.0,961.4 L159.0,961.5 L158.0,961.6 L157.0,961.6 L156.0,961.7 L155.0,961.7 L154.0,961.8 L153.0,961.8 L152.0,961.9 L151.0,962.0 L150.0,962.0 L149.0,962.1 L148.0,962.1 L147.0,962.2 L146.0,962.3 L145.0,962.3 L144.0,962.4 L143.0,962.5 L142.0,962.5 L141.0,962.6 L140.0,962.7 L139.0,962.8 L138.0,962.8 L137.0,962.9 L136.0,963.0 L135.0,963.0 L134.0,963.1 L133.0,963.2 L132.0,963.2 L131.0,963.3 L130.0,963.4 L129.0,963.5 L128.0,963.5 L127.0,963.6 L126.0,963.7 L125.0,963.7 L124.0,963.8 L123.0,963.9 L122.0,963.9 L121.0,964.0 L120.0,964.1 L119.0,964.2 L118.0,964.2 L117.0,964.3 L116.0,964.4 L115.0,964.5 L114.0,964.6 L113.0,964.7 L112.0,964.7 L111.0,964.8 L110.0,964.9 L109.0,965.0 L108.0,965.2 L107.0,965.3 L106.0,965.4 L105.0,965.5 L104.0,965.7 L103.0,965.8 L102.0,966.0 L101.0,966.2 L100.0,966.3 L99.0,966.6 L98.0,966.8 L97.0,967.0 L96.0,967.3 L95.0,967.6 L94.0,967.9 L93.0,968.2 L92.0,968.6 L91.0,968.9 L90.0,969.3 L89.0,969.8 L88.0,970.2 L87.0,970.7 L86.0,971.2 L85.0,971.8 L84.0,972.3 L83.0,972.9 L82.0,973.5 L81.0,974.1 L80.0,974.7 L79.0,975.3 L78.0,975.9 L77.0,976.6 L76.0,977.2 L75.0,977.8 L74.0,978.4 L73.0,979.1 L72.0,979.7 L71.0,980.3 L70.0,980.9 L69.0,981.4 L68.0,982.0 L67.0,982.5 L66.0,983.1 L65.0,983.6 L64.0,984.1 L63.0,984.6 L62.0,985.1 L61.0,985.6 L60.0,986.0 L59.0,986.5 L58.0,986.9 L57.0,987.3 L56.0,987.7 L55.0,988.1 L54.0,988.5 L53.0,988.9 L52.0,989.3 L51.0,989.6 L50.0,990.0 L49.0,990.3 L48.0,990.6 L47.0,990.9 L46.0,991.3 L45.0,991.6 L44.0,991.8 L43.0,992.1 L42.0,992.4 L41.0,992.7 L40.0,993.0 L39.0,993.2 L38.0,993.5 L37.0,993.8 L36.0,994.0 Z" fill="#e4eef8" stroke="none"/>
<line x1="21.70" y1="968.90" x2="332.00" y2="968.90" stroke="#4d4d4d" stroke-width="1.25" stroke-dasharray="3.5 3.257"/>
<line x1="89.70" y1="1007.80" x2="89.70" y2="700.70" stroke="#4d4d4d" stroke-width="1.25" stroke-dasharray="3.5 3.257"/>
<path d="M36.0,983.2 L37.0,983.0 L38.0,982.8 L39.0,982.5 L40.0,982.3 L41.0,982.1 L42.0,981.8 L43.0,981.6 L44.0,981.3 L45.0,981.1 L46.0,980.9 L47.0,980.6 L48.0,980.4 L49.0,980.1 L50.0,979.9 L51.0,979.6 L52.0,979.4 L53.0,979.1 L54.0,978.9 L55.0,978.6 L56.0,978.4 L57.0,978.1 L58.0,977.9 L59.0,977.6 L60.0,977.4 L61.0,977.1 L62.0,976.8 L63.0,976.6 L64.0,976.3 L65.0,976.0 L66.0,975.8 L67.0,975.5 L68.0,975.2 L69.0,975.0 L70.0,974.7 L71.0,974.4 L72.0,974.1 L73.0,973.8 L74.0,973.6 L75.0,973.3 L76.0,973.0 L77.0,972.7 L78.0,972.4 L79.0,972.1 L80.0,971.8 L81.0,971.5 L82.0,971.2 L83.0,970.9 L84.0,970.6 L85.0,970.3 L86.0,970.0 L87.0,969.7 L88.0,969.4 L89.0,969.1 L90.0,968.8 L91.0,968.5 L92.0,968.2 L93.0,967.9 L94.0,967.6 L95.0,967.3 L96.0,967.0 L97.0,966.6 L98.0,966.3 L99.0,966.0 L100.0,965.7 L101.0,965.4 L102.0,965.1 L103.0,964.8 L104.0,964.5 L105.0,964.2 L106.0,963.8 L107.0,963.5 L108.0,963.2 L109.0,962.9 L110.0,962.6 L111.0,962.3 L112.0,962.0 L113.0,961.7 L114.0,961.4 L115.0,961.1 L116.0,960.8 L117.0,960.5 L118.0,960.2 L119.0,959.9 L120.0,959.6 L121.0,959.3 L122.0,959.0 L123.0,958.7 L124.0,958.4 L125.0,958.1 L126.0,957.8 L127.0,957.5 L128.0,957.2 L129.0,956.9 L130.0,956.6 L131.0,956.3 L132.0,956.0 L133.0,955.7 L134.0,955.4 L135.0,955.2 L136.0,954.9 L137.0,954.6 L138.0,954.3 L139.0,954.0 L140.0,953.7 L141.0,953.5 L142.0,953.2 L143.0,952.9 L144.0,952.6 L145.0,952.4 L146.0,952.1 L147.0,951.8 L148.0,951.5 L149.0,951.3 L150.0,951.0 L151.0,950.7 L152.0,950.5 L153.0,950.2 L154.0,949.9 L155.0,949.6 L156.0,949.4 L157.0,949.1 L158.0,948.8 L159.0,948.5 L160.0,948.3 L161.0,948.0 L162.0,947.7 L163.0,947.4 L164.0,947.2 L165.0,946.9 L166.0,946.6 L167.0,946.3 L168.0,946.0 L169.0,945.7 L170.0,945.4 L171.0,945.1 L172.0,944.8 L173.0,944.5 L174.0,944.2 L175.0,943.9 L176.0,943.6 L177.0,943.3 L178.0,943.0 L179.0,942.6 L180.0,942.3 L181.0,942.0 L182.0,941.7 L183.0,941.3 L184.0,941.0 L185.0,940.7 L186.0,940.3 L187.0,940.0 L188.0,939.6 L189.0,939.3 L190.0,938.9 L191.0,938.6 L192.0,938.2 L193.0,937.8 L194.0,937.5 L195.0,937.1 L196.0,936.8 L197.0,936.4 L198.0,936.0 L199.0,935.6 L200.0,935.2 L201.0,934.9 L202.0,934.5 L203.0,934.1 L204.0,933.7 L205.0,933.3 L206.0,932.9 L207.0,932.5 L208.0,932.1 L209.0,931.7 L210.0,931.3 L211.0,930.9 L212.0,930.5 L213.0,930.1 L214.0,929.7 L215.0,929.2 L216.0,928.8 L217.0,928.4 L218.0,928.0 L219.0,927.6 L220.0,927.1 L221.0,926.7 L222.0,926.3 L223.0,925.9 L224.0,925.4 L225.0,925.0 L226.0,924.6 L227.0,924.1 L228.0,923.7 L229.0,923.3 L230.0,922.8 L231.0,922.4 L232.0,921.9 L233.0,921.5 L234.0,921.1 L235.0,920.6 L236.0,920.2 L237.0,919.7 L238.0,919.3 L239.0,918.8 L240.0,918.4 L241.0,917.9 L242.0,917.5 L243.0,917.0 L244.0,916.5 L245.0,916.1 L246.0,915.6 L247.0,915.2 L248.0,914.7 L249.0,914.2 L250.0,913.7 L251.0,913.2 L252.0,912.8 L253.0,912.3 L254.0,911.8 L255.0,911.3 L256.0,910.8 L257.0,910.3 L258.0,909.8 L259.0,909.3 L260.0,908.8 L261.0,908.2 L262.0,907.7 L263.0,907.2 L264.0,906.6 L265.0,906.1 L266.0,905.6 L267.0,905.0 L268.0,904.5 L269.0,903.9 L270.0,903.4 L271.0,902.8 L272.0,902.2 L273.0,901.6 L274.0,901.1 L275.0,900.5 L276.0,899.9 L277.0,899.3 L278.0,898.7 L279.0,898.1 L280.0,897.5 L281.0,896.9 L282.0,896.3 L283.0,895.6 L284.0,895.0 L285.0,894.4 L286.0,893.8 L287.0,893.1 L288.0,892.5 L289.0,891.8 L290.0,891.2 L291.0,890.6 L292.0,889.9 L293.0,889.2 L294.0,888.6 L295.0,887.9 L296.0,887.3 L297.0,886.6 L298.0,885.9 L299.0,885.3 L300.0,884.6 L301.0,883.9 L302.0,883.3 L303.0,882.6 L304.0,881.9 L305.0,881.2 L306.0,880.6 L307.0,879.9 L308.0,879.2 L309.0,878.5 L310.0,877.9 L311.0,877.2 L312.0,876.5 L313.0,875.8 L314.0,875.1 L315.0,874.5 L316.0,873.8 L317.0,873.1 L318.0,872.4" fill="none" stroke="#3d8fcb" stroke-width="1.55" stroke-linejoin="round" stroke-linecap="butt"/>
<rect x="85.70" y="714.90" width="8" height="35.90" fill="#fff"/>
<line x1="21.70" y1="700.70" x2="21.70" y2="1008.35" stroke="#595959" stroke-width="1.45"/>
<line x1="21.15" y1="1007.80" x2="332.00" y2="1007.80" stroke="#595959" stroke-width="1.45"/>
<line x1="19.50" y1="1007.40" x2="21.70" y2="1007.40" stroke="#595959" stroke-width="1.0"/>
<text x="18.20" y="1010.10" class="tk" text-anchor="end">0</text>
<line x1="19.50" y1="930.90" x2="21.70" y2="930.90" stroke="#595959" stroke-width="1.0"/>
<text x="18.20" y="933.60" class="tk" text-anchor="end">2</text>
<line x1="19.50" y1="854.30" x2="21.70" y2="854.30" stroke="#595959" stroke-width="1.0"/>
<text x="18.20" y="857.00" class="tk" text-anchor="end">4</text>
<line x1="19.50" y1="777.70" x2="21.70" y2="777.70" stroke="#595959" stroke-width="1.0"/>
<text x="18.20" y="780.40" class="tk" text-anchor="end">6</text>
<line x1="19.50" y1="701.10" x2="21.70" y2="701.10" stroke="#595959" stroke-width="1.0"/>
<text x="18.20" y="703.80" class="tk" text-anchor="end">8</text>
<line x1="84.60" y1="1007.80" x2="84.60" y2="1010.00" stroke="#595959" stroke-width="1.0"/>
<text x="84.60" y="1017.30" class="tk" text-anchor="middle">5</text>
<line x1="149.50" y1="1007.80" x2="149.50" y2="1010.00" stroke="#595959" stroke-width="1.0"/>
<text x="149.50" y="1017.30" class="tk" text-anchor="middle">10</text>
<line x1="214.40" y1="1007.80" x2="214.40" y2="1010.00" stroke="#595959" stroke-width="1.0"/>
<text x="214.40" y="1017.30" class="tk" text-anchor="middle">15</text>
<line x1="279.40" y1="1007.80" x2="279.40" y2="1010.00" stroke="#595959" stroke-width="1.0"/>
<text x="279.40" y="1017.30" class="tk" text-anchor="middle">20</text>
<text x="176.85" y="1026.20" class="at" text-anchor="middle">BRI</text>
<text x="0" y="0" class="at" text-anchor="middle" transform="translate(10.20,853.30) rotate(-90)">OR(95%CI)</text>
<text x="331.80" y="705.20" class="an" text-anchor="end">P for non−linearity:  &lt;0,001</text>
<text x="331.80" y="714.20" class="an" text-anchor="end">P for overall:  0,097</text>
<text x="331.80" y="723.00" class="an" text-anchor="end">Ref point:  5,38</text>
<text x="45.40" y="738.50" class="ti" textLength="93.20" lengthAdjust="spacing">OA Model 3</text>
<path d="M383.0,963.0 L384.0,962.8 L385.0,962.5 L386.0,962.3 L387.0,962.0 L388.0,961.8 L389.0,961.5 L390.0,961.3 L391.0,961.0 L392.0,960.8 L393.0,960.5 L394.0,960.2 L395.0,959.9 L396.0,959.7 L397.0,959.4 L398.0,959.1 L399.0,958.8 L400.0,958.5 L401.0,958.2 L402.0,957.9 L403.0,957.6 L404.0,957.3 L405.0,957.0 L406.0,956.7 L407.0,956.4 L408.0,956.1 L409.0,955.8 L410.0,955.5 L411.0,955.2 L412.0,954.9 L413.0,954.6 L414.0,954.4 L415.0,954.1 L416.0,953.8 L417.0,953.5 L418.0,953.2 L419.0,953.0 L420.0,952.7 L421.0,952.4 L422.0,952.1 L423.0,951.8 L424.0,951.6 L425.0,951.3 L426.0,951.0 L427.0,950.7 L428.0,950.3 L429.0,950.0 L430.0,949.6 L431.0,949.2 L432.0,948.7 L433.0,948.2 L434.0,947.7 L435.0,947.1 L436.0,946.4 L437.0,945.7 L438.0,944.9 L439.0,944.1 L440.0,943.2 L441.0,942.2 L442.0,941.2 L443.0,940.2 L444.0,939.2 L445.0,938.2 L446.0,937.1 L447.0,936.1 L448.0,935.0 L449.0,934.0 L450.0,933.0 L451.0,932.0 L452.0,931.1 L453.0,930.1 L454.0,929.2 L455.0,928.4 L456.0,927.6 L457.0,926.8 L458.0,926.1 L459.0,925.4 L460.0,924.8 L461.0,924.2 L462.0,923.6 L463.0,923.1 L464.0,922.6 L465.0,922.1 L466.0,921.7 L467.0,921.2 L468.0,920.8 L469.0,920.4 L470.0,919.9 L471.0,919.5 L472.0,919.0 L473.0,918.6 L474.0,918.1 L475.0,917.7 L476.0,917.2 L477.0,916.7 L478.0,916.2 L479.0,915.8 L480.0,915.3 L481.0,914.8 L482.0,914.3 L483.0,913.7 L484.0,913.2 L485.0,912.7 L486.0,912.1 L487.0,911.6 L488.0,911.0 L489.0,910.5 L490.0,909.9 L491.0,909.3 L492.0,908.7 L493.0,908.1 L494.0,907.5 L495.0,906.9 L496.0,906.3 L497.0,905.6 L498.0,905.0 L499.0,904.3 L500.0,903.7 L501.0,903.1 L502.0,902.4 L503.0,901.8 L504.0,901.2 L505.0,900.5 L506.0,899.9 L507.0,899.3 L508.0,898.8 L509.0,898.2 L510.0,897.6 L511.0,897.0 L512.0,896.5 L513.0,895.9 L514.0,895.4 L515.0,894.9 L516.0,894.3 L517.0,893.8 L518.0,893.3 L519.0,892.7 L520.0,892.2 L521.0,891.7 L522.0,891.1 L523.0,890.6 L524.0,890.0 L525.0,889.5 L526.0,888.9 L527.0,888.3 L528.0,887.8 L529.0,887.2 L530.0,886.6 L531.0,885.9 L532.0,885.3 L533.0,884.6 L534.0,883.9 L535.0,883.2 L536.0,882.5 L537.0,881.7 L538.0,880.9 L539.0,880.1 L540.0,879.4 L541.0,878.6 L542.0,877.8 L543.0,877.0 L544.0,876.2 L545.0,875.4 L546.0,874.6 L547.0,873.8 L548.0,873.0 L549.0,872.2 L550.0,871.3 L551.0,870.5 L552.0,869.6 L553.0,868.8 L554.0,867.9 L555.0,867.0 L556.0,866.1 L557.0,865.3 L558.0,864.4 L559.0,863.5 L560.0,862.6 L561.0,861.7 L562.0,860.7 L563.0,859.8 L564.0,858.9 L565.0,857.9 L566.0,857.0 L567.0,856.0 L568.0,855.1 L569.0,854.1 L570.0,853.1 L571.0,852.1 L572.0,851.1 L573.0,850.1 L574.0,849.1 L575.0,848.1 L576.0,847.0 L577.0,846.0 L578.0,845.0 L579.0,843.9 L580.0,842.9 L581.0,841.8 L582.0,840.7 L583.0,839.7 L584.0,838.6 L585.0,837.5 L586.0,836.4 L587.0,835.3 L588.0,834.1 L589.0,833.0 L590.0,831.8 L591.0,830.7 L592.0,829.5 L593.0,828.3 L594.0,827.1 L595.0,825.9 L596.0,824.7 L597.0,823.5 L598.0,822.2 L599.0,820.9 L600.0,819.6 L601.0,818.2 L602.0,816.9 L603.0,815.5 L604.0,814.1 L605.0,812.6 L606.0,811.2 L607.0,809.8 L608.0,808.4 L609.0,806.9 L610.0,805.5 L611.0,804.1 L612.0,802.7 L613.0,801.3 L614.0,799.8 L615.0,798.4 L616.0,797.0 L617.0,795.6 L618.0,794.2 L619.0,792.7 L620.0,791.3 L621.0,789.8 L622.0,788.4 L623.0,786.9 L624.0,785.4 L625.0,783.9 L626.0,782.3 L627.0,780.8 L628.0,779.2 L629.0,777.6 L630.0,776.0 L631.0,774.4 L632.0,772.7 L633.0,771.1 L634.0,769.4 L635.0,767.7 L636.0,766.0 L637.0,764.3 L638.0,762.6 L639.0,760.9 L640.0,759.2 L641.0,757.4 L642.0,755.7 L643.0,754.0 L644.0,752.2 L645.0,750.5 L646.0,748.7 L647.0,747.0 L648.0,745.2 L649.0,743.4 L650.0,741.6 L651.0,739.9 L652.0,738.1 L653.0,736.3 L654.0,734.6 L655.0,732.8 L656.0,731.1 L657.0,729.4 L658.0,727.7 L659.0,726.0 L660.0,724.3 L661.0,722.6 L662.0,721.0 L663.0,719.4 L664.0,717.8 L665.0,716.1 L665.0,965.3 L664.0,965.2 L663.0,965.1 L662.0,965.0 L661.0,964.9 L660.0,964.8 L659.0,964.7 L658.0,964.6 L657.0,964.5 L656.0,964.4 L655.0,964.3 L654.0,964.2 L653.0,964.1 L652.0,964.0 L651.0,963.9 L650.0,963.8 L649.0,963.7 L648.0,963.6 L647.0,963.5 L646.0,963.4 L645.0,963.3 L644.0,963.2 L643.0,963.1 L642.0,963.0 L641.0,962.9 L640.0,962.8 L639.0,962.7 L638.0,962.6 L637.0,962.5 L636.0,962.4 L635.0,962.3 L634.0,962.2 L633.0,962.1 L632.0,962.0 L631.0,961.9 L630.0,961.8 L629.0,961.7 L628.0,961.6 L627.0,961.5 L626.0,961.4 L625.0,961.3 L624.0,961.2 L623.0,961.1 L622.0,961.0 L621.0,960.9 L620.0,960.8 L619.0,960.7 L618.0,960.6 L617.0,960.5 L616.0,960.4 L615.0,960.3 L614.0,960.1 L613.0,960.0 L612.0,959.9 L611.0,959.8 L610.0,959.7 L609.0,959.6 L608.0,959.5 L607.0,959.4 L606.0,959.2 L605.0,959.1 L604.0,959.0 L603.0,958.9 L602.0,958.8 L601.0,958.6 L600.0,958.5 L599.0,958.4 L598.0,958.3 L597.0,958.1 L596.0,958.0 L595.0,957.9 L594.0,957.8 L593.0,957.6 L592.0,957.5 L591.0,957.4 L590.0,957.3 L589.0,957.1 L588.0,957.0 L587.0,956.9 L586.0,956.8 L585.0,956.6 L584.0,956.5 L583.0,956.4 L582.0,956.3 L581.0,956.2 L580.0,956.0 L579.0,955.9 L578.0,955.8 L577.0,955.7 L576.0,955.6 L575.0,955.4 L574.0,955.3 L573.0,955.2 L572.0,955.0 L571.0,954.9 L570.0,954.7 L569.0,954.6 L568.0,954.4 L567.0,954.3 L566.0,954.1 L565.0,954.0 L564.0,953.8 L563.0,953.6 L562.0,953.4 L561.0,953.2 L560.0,953.0 L559.0,952.8 L558.0,952.6 L557.0,952.4 L556.0,952.2 L555.0,951.9 L554.0,951.7 L553.0,951.5 L552.0,951.2 L551.0,951.0 L550.0,950.7 L549.0,950.5 L548.0,950.3 L547.0,950.0 L546.0,949.8 L545.0,949.6 L544.0,949.4 L543.0,949.2 L542.0,949.0 L541.0,948.8 L540.0,948.6 L539.0,948.4 L538.0,948.2 L537.0,948.1 L536.0,947.9 L535.0,947.8 L534.0,947.6 L533.0,947.5 L532.0,947.4 L531.0,947.3 L530.0,947.2 L529.0,947.0 L528.0,946.9 L527.0,946.8 L526.0,946.7 L525.0,946.6 L524.0,946.6 L523.0,946.5 L522.0,946.4 L521.0,946.3 L520.0,946.2 L519.0,946.1 L518.0,946.0 L517.0,945.9 L516.0,945.8 L515.0,945.7 L514.0,945.6 L513.0,945.5 L512.0,945.4 L511.0,945.2 L510.0,945.1 L509.0,945.0 L508.0,944.9 L507.0,944.8 L506.0,944.6 L505.0,944.5 L504.0,944.4 L503.0,944.3 L502.0,944.1 L501.0,944.0 L500.0,943.9 L499.0,943.8 L498.0,943.6 L497.0,943.5 L496.0,943.4 L495.0,943.2 L494.0,943.1 L493.0,943.0 L492.0,942.8 L491.0,942.7 L490.0,942.6 L489.0,942.5 L488.0,942.3 L487.0,942.2 L486.0,942.1 L485.0,941.9 L484.0,941.8 L483.0,941.7 L482.0,941.5 L481.0,941.4 L480.0,941.3 L479.0,941.1 L478.0,941.0 L477.0,940.9 L476.0,940.8 L475.0,940.7 L474.0,940.6 L473.0,940.5 L472.0,940.5 L471.0,940.4 L470.0,940.4 L469.0,940.3 L468.0,940.3 L467.0,940.3 L466.0,940.4 L465.0,940.4 L464.0,940.4 L463.0,940.5 L462.0,940.6 L461.0,940.7 L460.0,940.8 L459.0,940.9 L458.0,941.0 L457.0,941.2 L456.0,941.4 L455.0,941.6 L454.0,941.8 L453.0,942.0 L452.0,942.2 L451.0,942.5 L450.0,942.7 L449.0,943.0 L448.0,943.3 L447.0,943.6 L446.0,944.0 L445.0,944.4 L444.0,944.8 L443.0,945.2 L442.0,945.7 L441.0,946.2 L440.0,946.8 L439.0,947.5 L438.0,948.2 L437.0,949.1 L436.0,950.1 L435.0,951.2 L434.0,952.4 L433.0,953.6 L432.0,955.0 L431.0,956.4 L430.0,957.8 L429.0,959.3 L428.0,960.8 L427.0,962.3 L426.0,963.8 L425.0,965.3 L424.0,966.7 L423.0,968.1 L422.0,969.5 L421.0,970.8 L420.0,972.1 L419.0,973.3 L418.0,974.5 L417.0,975.6 L416.0,976.7 L415.0,977.8 L414.0,978.8 L413.0,979.8 L412.0,980.7 L411.0,981.6 L410.0,982.4 L409.0,983.2 L408.0,984.0 L407.0,984.7 L406.0,985.4 L405.0,986.1 L404.0,986.8 L403.0,987.4 L402.0,988.0 L401.0,988.6 L400.0,989.1 L399.0,989.6 L398.0,990.1 L397.0,990.6 L396.0,991.1 L395.0,991.5 L394.0,991.9 L393.0,992.4 L392.0,992.7 L391.0,993.1 L390.0,993.5 L389.0,993.8 L388.0,994.1 L387.0,994.5 L386.0,994.8 L385.0,995.1 L384.0,995.4 L383.0,995.7 Z" fill="#e4eef8" stroke="none"/>
<line x1="368.90" y1="947.40" x2="679.20" y2="947.40" stroke="#4d4d4d" stroke-width="1.25" stroke-dasharray="3.5 3.257"/>
<line x1="436.60" y1="1009.70" x2="436.60" y2="703.30" stroke="#4d4d4d" stroke-width="1.25" stroke-dasharray="3.5 3.257"/>
<path d="M383.0,985.6 L384.0,985.0 L385.0,984.4 L386.0,983.9 L387.0,983.3 L388.0,982.7 L389.0,982.1 L390.0,981.6 L391.0,981.0 L392.0,980.4 L393.0,979.8 L394.0,979.2 L395.0,978.5 L396.0,977.9 L397.0,977.3 L398.0,976.6 L399.0,976.0 L400.0,975.3 L401.0,974.6 L402.0,973.9 L403.0,973.3 L404.0,972.5 L405.0,971.8 L406.0,971.1 L407.0,970.4 L408.0,969.6 L409.0,968.9 L410.0,968.1 L411.0,967.4 L412.0,966.6 L413.0,965.8 L414.0,965.0 L415.0,964.2 L416.0,963.4 L417.0,962.6 L418.0,961.8 L419.0,961.0 L420.0,960.2 L421.0,959.4 L422.0,958.6 L423.0,957.7 L424.0,956.9 L425.0,956.1 L426.0,955.3 L427.0,954.5 L428.0,953.7 L429.0,952.9 L430.0,952.2 L431.0,951.4 L432.0,950.6 L433.0,949.8 L434.0,949.1 L435.0,948.3 L436.0,947.6 L437.0,946.8 L438.0,946.1 L439.0,945.4 L440.0,944.7 L441.0,944.0 L442.0,943.4 L443.0,942.7 L444.0,942.1 L445.0,941.4 L446.0,940.8 L447.0,940.2 L448.0,939.6 L449.0,939.1 L450.0,938.5 L451.0,938.0 L452.0,937.5 L453.0,937.0 L454.0,936.5 L455.0,936.1 L456.0,935.6 L457.0,935.2 L458.0,934.8 L459.0,934.4 L460.0,934.0 L461.0,933.6 L462.0,933.3 L463.0,933.0 L464.0,932.6 L465.0,932.3 L466.0,932.0 L467.0,931.8 L468.0,931.5 L469.0,931.3 L470.0,931.0 L471.0,930.8 L472.0,930.6 L473.0,930.4 L474.0,930.1 L475.0,930.0 L476.0,929.8 L477.0,929.6 L478.0,929.4 L479.0,929.3 L480.0,929.1 L481.0,928.9 L482.0,928.8 L483.0,928.6 L484.0,928.5 L485.0,928.4 L486.0,928.2 L487.0,928.1 L488.0,928.0 L489.0,927.8 L490.0,927.7 L491.0,927.6 L492.0,927.4 L493.0,927.3 L494.0,927.2 L495.0,927.0 L496.0,926.9 L497.0,926.8 L498.0,926.6 L499.0,926.5 L500.0,926.4 L501.0,926.2 L502.0,926.1 L503.0,926.0 L504.0,925.8 L505.0,925.7 L506.0,925.5 L507.0,925.4 L508.0,925.2 L509.0,925.1 L510.0,924.9 L511.0,924.8 L512.0,924.6 L513.0,924.5 L514.0,924.3 L515.0,924.2 L516.0,924.0 L517.0,923.8 L518.0,923.7 L519.0,923.5 L520.0,923.3 L521.0,923.2 L522.0,923.0 L523.0,922.8 L524.0,922.7 L525.0,922.5 L526.0,922.3 L527.0,922.2 L528.0,922.0 L529.0,921.8 L530.0,921.6 L531.0,921.5 L532.0,921.3 L533.0,921.1 L534.0,921.0 L535.0,920.8 L536.0,920.6 L537.0,920.4 L538.0,920.3 L539.0,920.1 L540.0,919.9 L541.0,919.7 L542.0,919.6 L543.0,919.4 L544.0,919.2 L545.0,919.1 L546.0,918.9 L547.0,918.7 L548.0,918.6 L549.0,918.4 L550.0,918.2 L551.0,918.1 L552.0,917.9 L553.0,917.8 L554.0,917.6 L555.0,917.4 L556.0,917.3 L557.0,917.1 L558.0,917.0 L559.0,916.8 L560.0,916.7 L561.0,916.5 L562.0,916.4 L563.0,916.2 L564.0,916.1 L565.0,915.9 L566.0,915.8 L567.0,915.6 L568.0,915.5 L569.0,915.3 L570.0,915.2 L571.0,915.0 L572.0,914.9 L573.0,914.7 L574.0,914.6 L575.0,914.4 L576.0,914.2 L577.0,914.1 L578.0,913.9 L579.0,913.8 L580.0,913.6 L581.0,913.5 L582.0,913.3 L583.0,913.2 L584.0,913.0 L585.0,912.9 L586.0,912.7 L587.0,912.5 L588.0,912.4 L589.0,912.2 L590.0,912.0 L591.0,911.9 L592.0,911.7 L593.0,911.5 L594.0,911.3 L595.0,911.2 L596.0,911.0 L597.0,910.8 L598.0,910.6 L599.0,910.5 L600.0,910.3 L601.0,910.1 L602.0,909.9 L603.0,909.7 L604.0,909.5 L605.0,909.3 L606.0,909.2 L607.0,909.0 L608.0,908.8 L609.0,908.6 L610.0,908.4 L611.0,908.2 L612.0,908.0 L613.0,907.9 L614.0,907.7 L615.0,907.5 L616.0,907.3 L617.0,907.1 L618.0,907.0 L619.0,906.8 L620.0,906.6 L621.0,906.4 L622.0,906.3 L623.0,906.1 L624.0,905.9 L625.0,905.7 L626.0,905.6 L627.0,905.4 L628.0,905.3 L629.0,905.1 L630.0,904.9 L631.0,904.8 L632.0,904.6 L633.0,904.5 L634.0,904.3 L635.0,904.2 L636.0,904.0 L637.0,903.9 L638.0,903.7 L639.0,903.6 L640.0,903.5 L641.0,903.3 L642.0,903.2 L643.0,903.0 L644.0,902.9 L645.0,902.7 L646.0,902.6 L647.0,902.5 L648.0,902.3 L649.0,902.2 L650.0,902.0 L651.0,901.9 L652.0,901.8 L653.0,901.6 L654.0,901.5 L655.0,901.4 L656.0,901.2 L657.0,901.1 L658.0,900.9 L659.0,900.8 L660.0,900.7 L661.0,900.5 L662.0,900.4 L663.0,900.3 L664.0,900.1 L665.0,900.0" fill="none" stroke="#3d8fcb" stroke-width="1.55" stroke-linejoin="round" stroke-linecap="butt"/>
<rect x="432.60" y="713.10" width="8" height="38.10" fill="#fff"/>
<line x1="368.90" y1="703.30" x2="368.90" y2="1010.25" stroke="#595959" stroke-width="1.45"/>
<line x1="368.35" y1="1009.70" x2="679.20" y2="1009.70" stroke="#595959" stroke-width="1.45"/>
<line x1="366.70" y1="1002.70" x2="368.90" y2="1002.70" stroke="#595959" stroke-width="1.0"/>
<text x="365.40" y="1005.40" class="tk" text-anchor="end">0</text>
<line x1="366.70" y1="947.20" x2="368.90" y2="947.20" stroke="#595959" stroke-width="1.0"/>
<text x="365.40" y="949.90" class="tk" text-anchor="end">1</text>
<line x1="366.70" y1="891.70" x2="368.90" y2="891.70" stroke="#595959" stroke-width="1.0"/>
<text x="365.40" y="894.40" class="tk" text-anchor="end">2</text>
<line x1="366.70" y1="836.20" x2="368.90" y2="836.20" stroke="#595959" stroke-width="1.0"/>
<text x="365.40" y="838.90" class="tk" text-anchor="end">3</text>
<line x1="366.70" y1="780.70" x2="368.90" y2="780.70" stroke="#595959" stroke-width="1.0"/>
<text x="365.40" y="783.40" class="tk" text-anchor="end">4</text>
<line x1="366.70" y1="725.20" x2="368.90" y2="725.20" stroke="#595959" stroke-width="1.0"/>
<text x="365.40" y="727.90" class="tk" text-anchor="end">5</text>
<line x1="431.60" y1="1009.70" x2="431.60" y2="1011.90" stroke="#595959" stroke-width="1.0"/>
<text x="431.60" y="1019.20" class="tk" text-anchor="middle">5</text>
<line x1="496.50" y1="1009.70" x2="496.50" y2="1011.90" stroke="#595959" stroke-width="1.0"/>
<text x="496.50" y="1019.20" class="tk" text-anchor="middle">10</text>
<line x1="561.40" y1="1009.70" x2="561.40" y2="1011.90" stroke="#595959" stroke-width="1.0"/>
<text x="561.40" y="1019.20" class="tk" text-anchor="middle">15</text>
<line x1="626.30" y1="1009.70" x2="626.30" y2="1011.90" stroke="#595959" stroke-width="1.0"/>
<text x="626.30" y="1019.20" class="tk" text-anchor="middle">20</text>
<text x="524.05" y="1028.10" class="at" text-anchor="middle">BRI</text>
<text x="0" y="0" class="at" text-anchor="middle" transform="translate(357.50,855.80) rotate(-90)">OR(95%CI)</text>
<text x="678.90" y="707.00" class="an" text-anchor="end">P for non−linearity:  &lt;0,001</text>
<text x="678.90" y="716.00" class="an" text-anchor="end">P for overall:  0,009</text>
<text x="678.90" y="724.60" class="an" text-anchor="end">Ref point:  5,38</text>
<text x="387.90" y="738.50" class="ti" textLength="90.20" lengthAdjust="spacing">RA Model 3</text>
</svg>
</body></html>
